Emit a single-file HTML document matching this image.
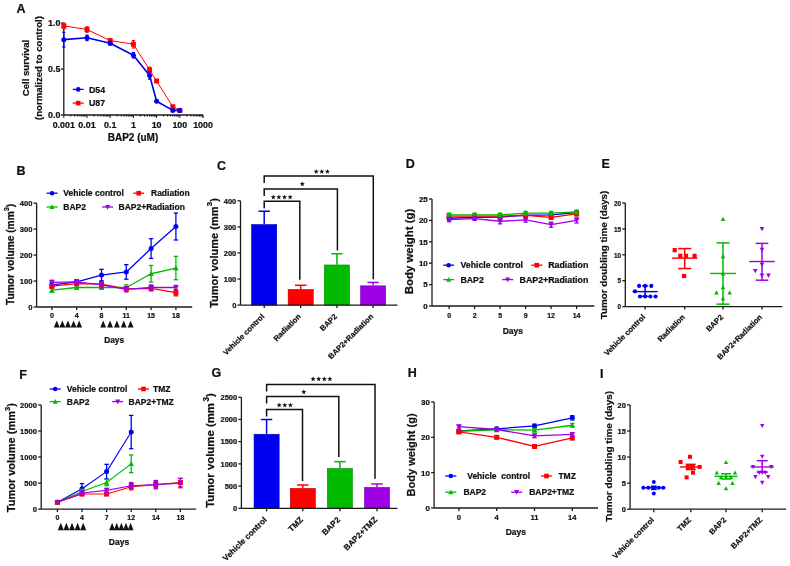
<!DOCTYPE html>
<html><head><meta charset="utf-8"><style>
html,body{margin:0;padding:0;background:#fff;}
body{width:790px;height:566px;overflow:hidden;font-family:"Liberation Sans", sans-serif;}
svg{display:block;}
#w{will-change:transform;width:790px;height:566px;}
.t{font-family:"Liberation Sans", sans-serif;font-weight:bold;stroke:#111;stroke-width:0.22px;}
</style></head><body><div id="w">
<svg width="790" height="566" viewBox="0 0 790 566">
<rect width="790" height="566" fill="#fff"/>
<text x="16.50" y="13.30" font-size="12.5" text-anchor="start" fill="#111" class="t">A</text>
<line x1="63.80" y1="23.10" x2="63.80" y2="115.00" stroke="#1a1a1a" stroke-width="1.3" />
<line x1="61.00" y1="23.10" x2="63.80" y2="23.10" stroke="#1a1a1a" stroke-width="1.3" />
<text x="60.40" y="26.30" font-size="8.9" text-anchor="end" fill="#111" class="t">1.0</text>
<line x1="61.00" y1="69.05" x2="63.80" y2="69.05" stroke="#1a1a1a" stroke-width="1.3" />
<text x="60.40" y="72.25" font-size="8.9" text-anchor="end" fill="#111" class="t">0.5</text>
<line x1="61.00" y1="115.00" x2="63.80" y2="115.00" stroke="#1a1a1a" stroke-width="1.3" />
<text x="60.40" y="118.20" font-size="8.9" text-anchor="end" fill="#111" class="t">0.0</text>
<line x1="63.80" y1="115.00" x2="203.00" y2="115.00" stroke="#1a1a1a" stroke-width="1.3" />
<line x1="63.80" y1="115.00" x2="63.80" y2="118.00" stroke="#1a1a1a" stroke-width="1.0" />
<line x1="70.78" y1="115.00" x2="70.78" y2="116.60" stroke="#1a1a1a" stroke-width="1.0" />
<line x1="74.87" y1="115.00" x2="74.87" y2="116.60" stroke="#1a1a1a" stroke-width="1.0" />
<line x1="77.77" y1="115.00" x2="77.77" y2="116.60" stroke="#1a1a1a" stroke-width="1.0" />
<line x1="80.02" y1="115.00" x2="80.02" y2="116.60" stroke="#1a1a1a" stroke-width="1.0" />
<line x1="81.85" y1="115.00" x2="81.85" y2="116.60" stroke="#1a1a1a" stroke-width="1.0" />
<line x1="83.41" y1="115.00" x2="83.41" y2="116.60" stroke="#1a1a1a" stroke-width="1.0" />
<line x1="84.75" y1="115.00" x2="84.75" y2="116.60" stroke="#1a1a1a" stroke-width="1.0" />
<line x1="85.94" y1="115.00" x2="85.94" y2="116.60" stroke="#1a1a1a" stroke-width="1.0" />
<line x1="87.00" y1="115.00" x2="87.00" y2="118.00" stroke="#1a1a1a" stroke-width="1.0" />
<line x1="93.98" y1="115.00" x2="93.98" y2="116.60" stroke="#1a1a1a" stroke-width="1.0" />
<line x1="98.07" y1="115.00" x2="98.07" y2="116.60" stroke="#1a1a1a" stroke-width="1.0" />
<line x1="100.97" y1="115.00" x2="100.97" y2="116.60" stroke="#1a1a1a" stroke-width="1.0" />
<line x1="103.22" y1="115.00" x2="103.22" y2="116.60" stroke="#1a1a1a" stroke-width="1.0" />
<line x1="105.05" y1="115.00" x2="105.05" y2="116.60" stroke="#1a1a1a" stroke-width="1.0" />
<line x1="106.61" y1="115.00" x2="106.61" y2="116.60" stroke="#1a1a1a" stroke-width="1.0" />
<line x1="107.95" y1="115.00" x2="107.95" y2="116.60" stroke="#1a1a1a" stroke-width="1.0" />
<line x1="109.14" y1="115.00" x2="109.14" y2="116.60" stroke="#1a1a1a" stroke-width="1.0" />
<line x1="110.20" y1="115.00" x2="110.20" y2="118.00" stroke="#1a1a1a" stroke-width="1.0" />
<line x1="117.18" y1="115.00" x2="117.18" y2="116.60" stroke="#1a1a1a" stroke-width="1.0" />
<line x1="121.27" y1="115.00" x2="121.27" y2="116.60" stroke="#1a1a1a" stroke-width="1.0" />
<line x1="124.17" y1="115.00" x2="124.17" y2="116.60" stroke="#1a1a1a" stroke-width="1.0" />
<line x1="126.42" y1="115.00" x2="126.42" y2="116.60" stroke="#1a1a1a" stroke-width="1.0" />
<line x1="128.25" y1="115.00" x2="128.25" y2="116.60" stroke="#1a1a1a" stroke-width="1.0" />
<line x1="129.81" y1="115.00" x2="129.81" y2="116.60" stroke="#1a1a1a" stroke-width="1.0" />
<line x1="131.15" y1="115.00" x2="131.15" y2="116.60" stroke="#1a1a1a" stroke-width="1.0" />
<line x1="132.34" y1="115.00" x2="132.34" y2="116.60" stroke="#1a1a1a" stroke-width="1.0" />
<line x1="133.40" y1="115.00" x2="133.40" y2="118.00" stroke="#1a1a1a" stroke-width="1.0" />
<line x1="140.38" y1="115.00" x2="140.38" y2="116.60" stroke="#1a1a1a" stroke-width="1.0" />
<line x1="144.47" y1="115.00" x2="144.47" y2="116.60" stroke="#1a1a1a" stroke-width="1.0" />
<line x1="147.37" y1="115.00" x2="147.37" y2="116.60" stroke="#1a1a1a" stroke-width="1.0" />
<line x1="149.62" y1="115.00" x2="149.62" y2="116.60" stroke="#1a1a1a" stroke-width="1.0" />
<line x1="151.45" y1="115.00" x2="151.45" y2="116.60" stroke="#1a1a1a" stroke-width="1.0" />
<line x1="153.01" y1="115.00" x2="153.01" y2="116.60" stroke="#1a1a1a" stroke-width="1.0" />
<line x1="154.35" y1="115.00" x2="154.35" y2="116.60" stroke="#1a1a1a" stroke-width="1.0" />
<line x1="155.54" y1="115.00" x2="155.54" y2="116.60" stroke="#1a1a1a" stroke-width="1.0" />
<line x1="156.60" y1="115.00" x2="156.60" y2="118.00" stroke="#1a1a1a" stroke-width="1.0" />
<line x1="163.58" y1="115.00" x2="163.58" y2="116.60" stroke="#1a1a1a" stroke-width="1.0" />
<line x1="167.67" y1="115.00" x2="167.67" y2="116.60" stroke="#1a1a1a" stroke-width="1.0" />
<line x1="170.57" y1="115.00" x2="170.57" y2="116.60" stroke="#1a1a1a" stroke-width="1.0" />
<line x1="172.82" y1="115.00" x2="172.82" y2="116.60" stroke="#1a1a1a" stroke-width="1.0" />
<line x1="174.65" y1="115.00" x2="174.65" y2="116.60" stroke="#1a1a1a" stroke-width="1.0" />
<line x1="176.21" y1="115.00" x2="176.21" y2="116.60" stroke="#1a1a1a" stroke-width="1.0" />
<line x1="177.55" y1="115.00" x2="177.55" y2="116.60" stroke="#1a1a1a" stroke-width="1.0" />
<line x1="178.74" y1="115.00" x2="178.74" y2="116.60" stroke="#1a1a1a" stroke-width="1.0" />
<line x1="179.80" y1="115.00" x2="179.80" y2="118.00" stroke="#1a1a1a" stroke-width="1.0" />
<line x1="186.78" y1="115.00" x2="186.78" y2="116.60" stroke="#1a1a1a" stroke-width="1.0" />
<line x1="190.87" y1="115.00" x2="190.87" y2="116.60" stroke="#1a1a1a" stroke-width="1.0" />
<line x1="193.77" y1="115.00" x2="193.77" y2="116.60" stroke="#1a1a1a" stroke-width="1.0" />
<line x1="196.02" y1="115.00" x2="196.02" y2="116.60" stroke="#1a1a1a" stroke-width="1.0" />
<line x1="197.85" y1="115.00" x2="197.85" y2="116.60" stroke="#1a1a1a" stroke-width="1.0" />
<line x1="199.41" y1="115.00" x2="199.41" y2="116.60" stroke="#1a1a1a" stroke-width="1.0" />
<line x1="200.75" y1="115.00" x2="200.75" y2="116.60" stroke="#1a1a1a" stroke-width="1.0" />
<line x1="201.94" y1="115.00" x2="201.94" y2="116.60" stroke="#1a1a1a" stroke-width="1.0" />
<line x1="203.00" y1="115.00" x2="203.00" y2="118.00" stroke="#1a1a1a" stroke-width="1.3" />
<text x="63.80" y="127.60" font-size="8.9" text-anchor="middle" fill="#111" class="t">0.001</text>
<text x="87.00" y="127.60" font-size="8.9" text-anchor="middle" fill="#111" class="t">0.01</text>
<text x="110.20" y="127.60" font-size="8.9" text-anchor="middle" fill="#111" class="t">0.1</text>
<text x="133.40" y="127.60" font-size="8.9" text-anchor="middle" fill="#111" class="t">1</text>
<text x="156.60" y="127.60" font-size="8.9" text-anchor="middle" fill="#111" class="t">10</text>
<text x="179.80" y="127.60" font-size="8.9" text-anchor="middle" fill="#111" class="t">100</text>
<text x="203.00" y="127.60" font-size="8.9" text-anchor="middle" fill="#111" class="t">1000</text>
<text x="133.00" y="140.50" font-size="10" text-anchor="middle" fill="#111" class="t">BAP2 (uM)</text>
<text x="0" y="0" font-size="9.6" text-anchor="middle" fill="#111" class="t" transform="translate(28.50 68.00) rotate(-90)">Cell survival</text>
<text x="0" y="0" font-size="9.6" text-anchor="middle" fill="#111" class="t" transform="translate(42.00 68.00) rotate(-90)">(normalized to control)</text>
<polyline points="63.80,25.86 87.00,29.53 110.20,40.56 133.40,44.24 149.62,69.97 156.60,81.00 172.82,106.73 179.80,110.41" fill="none" stroke="#ff0000" stroke-width="1.0" stroke-linejoin="round"/>
<line x1="63.80" y1="23.10" x2="63.80" y2="28.61" stroke="#ff0000" stroke-width="1.2" />
<line x1="62.20" y1="23.10" x2="65.40" y2="23.10" stroke="#ff0000" stroke-width="1.2" />
<line x1="62.20" y1="28.61" x2="65.40" y2="28.61" stroke="#ff0000" stroke-width="1.2" />
<rect x="61.30" y="23.36" width="5.00" height="5.00" fill="#ff0000"/>
<line x1="87.00" y1="26.78" x2="87.00" y2="32.29" stroke="#ff0000" stroke-width="1.2" />
<line x1="85.40" y1="26.78" x2="88.60" y2="26.78" stroke="#ff0000" stroke-width="1.2" />
<line x1="85.40" y1="32.29" x2="88.60" y2="32.29" stroke="#ff0000" stroke-width="1.2" />
<rect x="84.50" y="27.03" width="5.00" height="5.00" fill="#ff0000"/>
<line x1="110.20" y1="38.72" x2="110.20" y2="42.40" stroke="#ff0000" stroke-width="1.2" />
<line x1="108.60" y1="38.72" x2="111.80" y2="38.72" stroke="#ff0000" stroke-width="1.2" />
<line x1="108.60" y1="42.40" x2="111.80" y2="42.40" stroke="#ff0000" stroke-width="1.2" />
<rect x="107.70" y="38.06" width="5.00" height="5.00" fill="#ff0000"/>
<line x1="133.40" y1="40.56" x2="133.40" y2="47.91" stroke="#ff0000" stroke-width="1.2" />
<line x1="131.80" y1="40.56" x2="135.00" y2="40.56" stroke="#ff0000" stroke-width="1.2" />
<line x1="131.80" y1="47.91" x2="135.00" y2="47.91" stroke="#ff0000" stroke-width="1.2" />
<rect x="130.90" y="41.74" width="5.00" height="5.00" fill="#ff0000"/>
<line x1="149.62" y1="67.21" x2="149.62" y2="72.73" stroke="#ff0000" stroke-width="1.2" />
<line x1="148.02" y1="67.21" x2="151.22" y2="67.21" stroke="#ff0000" stroke-width="1.2" />
<line x1="148.02" y1="72.73" x2="151.22" y2="72.73" stroke="#ff0000" stroke-width="1.2" />
<rect x="147.12" y="67.47" width="5.00" height="5.00" fill="#ff0000"/>
<line x1="156.60" y1="80.08" x2="156.60" y2="81.92" stroke="#ff0000" stroke-width="1.2" />
<line x1="155.00" y1="80.08" x2="158.20" y2="80.08" stroke="#ff0000" stroke-width="1.2" />
<line x1="155.00" y1="81.92" x2="158.20" y2="81.92" stroke="#ff0000" stroke-width="1.2" />
<rect x="154.10" y="78.50" width="5.00" height="5.00" fill="#ff0000"/>
<line x1="172.82" y1="105.81" x2="172.82" y2="107.65" stroke="#ff0000" stroke-width="1.2" />
<line x1="171.22" y1="105.81" x2="174.42" y2="105.81" stroke="#ff0000" stroke-width="1.2" />
<line x1="171.22" y1="107.65" x2="174.42" y2="107.65" stroke="#ff0000" stroke-width="1.2" />
<rect x="170.32" y="104.23" width="5.00" height="5.00" fill="#ff0000"/>
<line x1="179.80" y1="109.49" x2="179.80" y2="111.32" stroke="#ff0000" stroke-width="1.2" />
<line x1="178.20" y1="109.49" x2="181.40" y2="109.49" stroke="#ff0000" stroke-width="1.2" />
<line x1="178.20" y1="111.32" x2="181.40" y2="111.32" stroke="#ff0000" stroke-width="1.2" />
<rect x="177.30" y="107.91" width="5.00" height="5.00" fill="#ff0000"/>
<polyline points="63.80,39.64 87.00,37.80 110.20,43.32 133.40,55.26 149.62,75.48 156.60,101.22 172.82,110.41 179.80,110.41" fill="none" stroke="#0000f0" stroke-width="1.6" stroke-linejoin="round"/>
<line x1="63.80" y1="32.29" x2="63.80" y2="46.99" stroke="#0000f0" stroke-width="1.2" />
<line x1="62.20" y1="32.29" x2="65.40" y2="32.29" stroke="#0000f0" stroke-width="1.2" />
<line x1="62.20" y1="46.99" x2="65.40" y2="46.99" stroke="#0000f0" stroke-width="1.2" />
<circle cx="63.80" cy="39.64" r="2.5" fill="#0000f0"/>
<line x1="87.00" y1="35.05" x2="87.00" y2="40.56" stroke="#0000f0" stroke-width="1.2" />
<line x1="85.40" y1="35.05" x2="88.60" y2="35.05" stroke="#0000f0" stroke-width="1.2" />
<line x1="85.40" y1="40.56" x2="88.60" y2="40.56" stroke="#0000f0" stroke-width="1.2" />
<circle cx="87.00" cy="37.80" r="2.5" fill="#0000f0"/>
<line x1="110.20" y1="41.48" x2="110.20" y2="45.16" stroke="#0000f0" stroke-width="1.2" />
<line x1="108.60" y1="41.48" x2="111.80" y2="41.48" stroke="#0000f0" stroke-width="1.2" />
<line x1="108.60" y1="45.16" x2="111.80" y2="45.16" stroke="#0000f0" stroke-width="1.2" />
<circle cx="110.20" cy="43.32" r="2.5" fill="#0000f0"/>
<line x1="133.40" y1="52.51" x2="133.40" y2="58.02" stroke="#0000f0" stroke-width="1.2" />
<line x1="131.80" y1="52.51" x2="135.00" y2="52.51" stroke="#0000f0" stroke-width="1.2" />
<line x1="131.80" y1="58.02" x2="135.00" y2="58.02" stroke="#0000f0" stroke-width="1.2" />
<circle cx="133.40" cy="55.26" r="2.5" fill="#0000f0"/>
<line x1="149.62" y1="71.81" x2="149.62" y2="79.16" stroke="#0000f0" stroke-width="1.2" />
<line x1="148.02" y1="71.81" x2="151.22" y2="71.81" stroke="#0000f0" stroke-width="1.2" />
<line x1="148.02" y1="79.16" x2="151.22" y2="79.16" stroke="#0000f0" stroke-width="1.2" />
<circle cx="149.62" cy="75.48" r="2.5" fill="#0000f0"/>
<line x1="156.60" y1="100.30" x2="156.60" y2="102.13" stroke="#0000f0" stroke-width="1.2" />
<line x1="155.00" y1="100.30" x2="158.20" y2="100.30" stroke="#0000f0" stroke-width="1.2" />
<line x1="155.00" y1="102.13" x2="158.20" y2="102.13" stroke="#0000f0" stroke-width="1.2" />
<circle cx="156.60" cy="101.22" r="2.5" fill="#0000f0"/>
<line x1="172.82" y1="109.49" x2="172.82" y2="111.32" stroke="#0000f0" stroke-width="1.2" />
<line x1="171.22" y1="109.49" x2="174.42" y2="109.49" stroke="#0000f0" stroke-width="1.2" />
<line x1="171.22" y1="111.32" x2="174.42" y2="111.32" stroke="#0000f0" stroke-width="1.2" />
<circle cx="172.82" cy="110.41" r="2.5" fill="#0000f0"/>
<line x1="179.80" y1="109.49" x2="179.80" y2="111.32" stroke="#0000f0" stroke-width="1.2" />
<line x1="178.20" y1="109.49" x2="181.40" y2="109.49" stroke="#0000f0" stroke-width="1.2" />
<line x1="178.20" y1="111.32" x2="181.40" y2="111.32" stroke="#0000f0" stroke-width="1.2" />
<circle cx="179.80" cy="110.41" r="2.5" fill="#0000f0"/>
<line x1="72.70" y1="89.40" x2="83.70" y2="89.40" stroke="#0000f0" stroke-width="1.3" />
<circle cx="78.20" cy="89.40" r="2.3" fill="#0000f0"/>
<text x="88.90" y="92.57" font-size="8.8" text-anchor="start" fill="#111" class="t">D54</text>
<line x1="72.70" y1="103.10" x2="83.70" y2="103.10" stroke="#ff0000" stroke-width="1.3" />
<rect x="75.90" y="100.80" width="4.60" height="4.60" fill="#ff0000"/>
<text x="88.90" y="106.27" font-size="8.8" text-anchor="start" fill="#111" class="t">U87</text>
<text x="16.50" y="174.50" font-size="12.5" text-anchor="start" fill="#111" class="t">B</text>
<line x1="36.60" y1="203.10" x2="36.60" y2="307.00" stroke="#1a1a1a" stroke-width="1.3" />
<line x1="33.60" y1="203.10" x2="36.60" y2="203.10" stroke="#1a1a1a" stroke-width="1.3" />
<text x="32.40" y="205.84" font-size="7.6" text-anchor="end" fill="#111" class="t">400</text>
<line x1="33.60" y1="229.07" x2="36.60" y2="229.07" stroke="#1a1a1a" stroke-width="1.3" />
<text x="32.40" y="231.81" font-size="7.6" text-anchor="end" fill="#111" class="t">300</text>
<line x1="33.60" y1="255.05" x2="36.60" y2="255.05" stroke="#1a1a1a" stroke-width="1.3" />
<text x="32.40" y="257.79" font-size="7.6" text-anchor="end" fill="#111" class="t">200</text>
<line x1="33.60" y1="281.02" x2="36.60" y2="281.02" stroke="#1a1a1a" stroke-width="1.3" />
<text x="32.40" y="283.76" font-size="7.6" text-anchor="end" fill="#111" class="t">100</text>
<line x1="33.60" y1="307.00" x2="36.60" y2="307.00" stroke="#1a1a1a" stroke-width="1.3" />
<text x="32.40" y="309.74" font-size="7.6" text-anchor="end" fill="#111" class="t">0</text>
<line x1="36.60" y1="307.00" x2="192.20" y2="307.00" stroke="#1a1a1a" stroke-width="1.3" />
<line x1="51.90" y1="307.00" x2="51.90" y2="310.00" stroke="#1a1a1a" stroke-width="1.3" />
<text x="0" y="0" font-size="8" text-anchor="middle" fill="#111" class="t" transform="translate(51.90 317.80) scale(0.88 1)">0</text>
<line x1="76.70" y1="307.00" x2="76.70" y2="310.00" stroke="#1a1a1a" stroke-width="1.3" />
<text x="0" y="0" font-size="8" text-anchor="middle" fill="#111" class="t" transform="translate(76.70 317.80) scale(0.88 1)">4</text>
<line x1="101.50" y1="307.00" x2="101.50" y2="310.00" stroke="#1a1a1a" stroke-width="1.3" />
<text x="0" y="0" font-size="8" text-anchor="middle" fill="#111" class="t" transform="translate(101.50 317.80) scale(0.88 1)">8</text>
<line x1="126.30" y1="307.00" x2="126.30" y2="310.00" stroke="#1a1a1a" stroke-width="1.3" />
<text x="0" y="0" font-size="8" text-anchor="middle" fill="#111" class="t" transform="translate(126.30 317.80) scale(0.88 1)">11</text>
<line x1="151.10" y1="307.00" x2="151.10" y2="310.00" stroke="#1a1a1a" stroke-width="1.3" />
<text x="0" y="0" font-size="8" text-anchor="middle" fill="#111" class="t" transform="translate(151.10 317.80) scale(0.88 1)">15</text>
<line x1="175.90" y1="307.00" x2="175.90" y2="310.00" stroke="#1a1a1a" stroke-width="1.3" />
<text x="0" y="0" font-size="8" text-anchor="middle" fill="#111" class="t" transform="translate(175.90 317.80) scale(0.88 1)">18</text>
<polygon points="53.80,327.40 59.70,327.40 56.75,320.60" fill="#111"/>
<polygon points="59.40,327.40 65.30,327.40 62.35,320.60" fill="#111"/>
<polygon points="65.00,327.40 70.90,327.40 67.95,320.60" fill="#111"/>
<polygon points="70.60,327.40 76.50,327.40 73.55,320.60" fill="#111"/>
<polygon points="76.20,327.40 82.10,327.40 79.15,320.60" fill="#111"/>
<polygon points="100.30,327.40 106.10,327.40 103.20,320.60" fill="#111"/>
<polygon points="107.15,327.40 112.95,327.40 110.05,320.60" fill="#111"/>
<polygon points="114.00,327.40 119.80,327.40 116.90,320.60" fill="#111"/>
<polygon points="120.85,327.40 126.65,327.40 123.75,320.60" fill="#111"/>
<polygon points="127.70,327.40 133.50,327.40 130.60,320.60" fill="#111"/>
<text x="114.20" y="342.60" font-size="8.3" text-anchor="middle" fill="#111" class="t">Days</text>
<text x="0" y="0" font-size="10.2" text-anchor="middle" fill="#111" class="t" transform="translate(14.20 254.40) rotate(-90)">Tumor volume (mm<tspan font-size="7.4" dy="-4.8">3</tspan><tspan dy="4.8">)</tspan></text>
<polyline points="51.90,284.92 76.70,281.80 101.50,275.05 126.30,271.93 151.10,248.56 175.90,226.48" fill="none" stroke="#0000f0" stroke-width="1.3" stroke-linejoin="round"/>
<line x1="51.90" y1="282.32" x2="51.90" y2="287.52" stroke="#0000f0" stroke-width="1.3" />
<line x1="49.70" y1="282.32" x2="54.10" y2="282.32" stroke="#0000f0" stroke-width="1.3" />
<line x1="49.70" y1="287.52" x2="54.10" y2="287.52" stroke="#0000f0" stroke-width="1.3" />
<circle cx="51.90" cy="284.92" r="2.5" fill="#0000f0"/>
<line x1="76.70" y1="279.73" x2="76.70" y2="283.88" stroke="#0000f0" stroke-width="1.3" />
<line x1="74.50" y1="279.73" x2="78.90" y2="279.73" stroke="#0000f0" stroke-width="1.3" />
<line x1="74.50" y1="283.88" x2="78.90" y2="283.88" stroke="#0000f0" stroke-width="1.3" />
<circle cx="76.70" cy="281.80" r="2.5" fill="#0000f0"/>
<line x1="101.50" y1="269.34" x2="101.50" y2="280.77" stroke="#0000f0" stroke-width="1.3" />
<line x1="99.30" y1="269.34" x2="103.70" y2="269.34" stroke="#0000f0" stroke-width="1.3" />
<line x1="99.30" y1="280.77" x2="103.70" y2="280.77" stroke="#0000f0" stroke-width="1.3" />
<circle cx="101.50" cy="275.05" r="2.5" fill="#0000f0"/>
<line x1="126.30" y1="264.66" x2="126.30" y2="279.21" stroke="#0000f0" stroke-width="1.3" />
<line x1="124.10" y1="264.66" x2="128.50" y2="264.66" stroke="#0000f0" stroke-width="1.3" />
<line x1="124.10" y1="279.21" x2="128.50" y2="279.21" stroke="#0000f0" stroke-width="1.3" />
<circle cx="126.30" cy="271.93" r="2.5" fill="#0000f0"/>
<line x1="151.10" y1="238.69" x2="151.10" y2="258.43" stroke="#0000f0" stroke-width="1.3" />
<line x1="148.90" y1="238.69" x2="153.30" y2="238.69" stroke="#0000f0" stroke-width="1.3" />
<line x1="148.90" y1="258.43" x2="153.30" y2="258.43" stroke="#0000f0" stroke-width="1.3" />
<circle cx="151.10" cy="248.56" r="2.5" fill="#0000f0"/>
<line x1="175.90" y1="212.97" x2="175.90" y2="239.98" stroke="#0000f0" stroke-width="1.3" />
<line x1="173.70" y1="212.97" x2="178.10" y2="212.97" stroke="#0000f0" stroke-width="1.3" />
<line x1="173.70" y1="239.98" x2="178.10" y2="239.98" stroke="#0000f0" stroke-width="1.3" />
<circle cx="175.90" cy="226.48" r="2.5" fill="#0000f0"/>
<polyline points="51.90,290.12 76.70,287.52 101.50,287.52 126.30,287.52 151.10,273.75 175.90,268.04" fill="none" stroke="#00bb00" stroke-width="1.3" stroke-linejoin="round"/>
<line x1="51.90" y1="288.04" x2="51.90" y2="292.19" stroke="#00bb00" stroke-width="1.3" />
<line x1="49.70" y1="288.04" x2="54.10" y2="288.04" stroke="#00bb00" stroke-width="1.3" />
<line x1="49.70" y1="292.19" x2="54.10" y2="292.19" stroke="#00bb00" stroke-width="1.3" />
<polygon points="51.90,287.24 54.65,292.42 49.15,292.42" fill="#00bb00"/>
<line x1="76.70" y1="285.96" x2="76.70" y2="289.08" stroke="#00bb00" stroke-width="1.3" />
<line x1="74.50" y1="285.96" x2="78.90" y2="285.96" stroke="#00bb00" stroke-width="1.3" />
<line x1="74.50" y1="289.08" x2="78.90" y2="289.08" stroke="#00bb00" stroke-width="1.3" />
<polygon points="76.70,284.64 79.45,289.82 73.95,289.82" fill="#00bb00"/>
<line x1="101.50" y1="285.70" x2="101.50" y2="289.34" stroke="#00bb00" stroke-width="1.3" />
<line x1="99.30" y1="285.70" x2="103.70" y2="285.70" stroke="#00bb00" stroke-width="1.3" />
<line x1="99.30" y1="289.34" x2="103.70" y2="289.34" stroke="#00bb00" stroke-width="1.3" />
<polygon points="101.50,284.64 104.25,289.82 98.75,289.82" fill="#00bb00"/>
<line x1="126.30" y1="284.92" x2="126.30" y2="290.12" stroke="#00bb00" stroke-width="1.3" />
<line x1="124.10" y1="284.92" x2="128.50" y2="284.92" stroke="#00bb00" stroke-width="1.3" />
<line x1="124.10" y1="290.12" x2="128.50" y2="290.12" stroke="#00bb00" stroke-width="1.3" />
<polygon points="126.30,284.64 129.05,289.82 123.55,289.82" fill="#00bb00"/>
<line x1="151.10" y1="265.44" x2="151.10" y2="282.06" stroke="#00bb00" stroke-width="1.3" />
<line x1="148.90" y1="265.44" x2="153.30" y2="265.44" stroke="#00bb00" stroke-width="1.3" />
<line x1="148.90" y1="282.06" x2="153.30" y2="282.06" stroke="#00bb00" stroke-width="1.3" />
<polygon points="151.10,270.88 153.85,276.05 148.35,276.05" fill="#00bb00"/>
<line x1="175.90" y1="256.35" x2="175.90" y2="279.73" stroke="#00bb00" stroke-width="1.3" />
<line x1="173.70" y1="256.35" x2="178.10" y2="256.35" stroke="#00bb00" stroke-width="1.3" />
<line x1="173.70" y1="279.73" x2="178.10" y2="279.73" stroke="#00bb00" stroke-width="1.3" />
<polygon points="175.90,265.16 178.65,270.34 173.15,270.34" fill="#00bb00"/>
<polyline points="51.90,286.22 76.70,283.62 101.50,284.14 126.30,288.82 151.10,288.30 175.90,292.71" fill="none" stroke="#ff0000" stroke-width="1.3" stroke-linejoin="round"/>
<line x1="51.90" y1="284.66" x2="51.90" y2="287.78" stroke="#ff0000" stroke-width="1.3" />
<line x1="49.70" y1="284.66" x2="54.10" y2="284.66" stroke="#ff0000" stroke-width="1.3" />
<line x1="49.70" y1="287.78" x2="54.10" y2="287.78" stroke="#ff0000" stroke-width="1.3" />
<rect x="49.40" y="283.72" width="5.00" height="5.00" fill="#ff0000"/>
<line x1="76.70" y1="281.80" x2="76.70" y2="285.44" stroke="#ff0000" stroke-width="1.3" />
<line x1="74.50" y1="281.80" x2="78.90" y2="281.80" stroke="#ff0000" stroke-width="1.3" />
<line x1="74.50" y1="285.44" x2="78.90" y2="285.44" stroke="#ff0000" stroke-width="1.3" />
<rect x="74.20" y="281.12" width="5.00" height="5.00" fill="#ff0000"/>
<line x1="101.50" y1="282.06" x2="101.50" y2="286.22" stroke="#ff0000" stroke-width="1.3" />
<line x1="99.30" y1="282.06" x2="103.70" y2="282.06" stroke="#ff0000" stroke-width="1.3" />
<line x1="99.30" y1="286.22" x2="103.70" y2="286.22" stroke="#ff0000" stroke-width="1.3" />
<rect x="99.00" y="281.64" width="5.00" height="5.00" fill="#ff0000"/>
<line x1="126.30" y1="286.74" x2="126.30" y2="290.90" stroke="#ff0000" stroke-width="1.3" />
<line x1="124.10" y1="286.74" x2="128.50" y2="286.74" stroke="#ff0000" stroke-width="1.3" />
<line x1="124.10" y1="290.90" x2="128.50" y2="290.90" stroke="#ff0000" stroke-width="1.3" />
<rect x="123.80" y="286.32" width="5.00" height="5.00" fill="#ff0000"/>
<line x1="151.10" y1="285.70" x2="151.10" y2="290.90" stroke="#ff0000" stroke-width="1.3" />
<line x1="148.90" y1="285.70" x2="153.30" y2="285.70" stroke="#ff0000" stroke-width="1.3" />
<line x1="148.90" y1="290.90" x2="153.30" y2="290.90" stroke="#ff0000" stroke-width="1.3" />
<rect x="148.60" y="285.80" width="5.00" height="5.00" fill="#ff0000"/>
<line x1="175.90" y1="289.60" x2="175.90" y2="295.83" stroke="#ff0000" stroke-width="1.3" />
<line x1="173.70" y1="289.60" x2="178.10" y2="289.60" stroke="#ff0000" stroke-width="1.3" />
<line x1="173.70" y1="295.83" x2="178.10" y2="295.83" stroke="#ff0000" stroke-width="1.3" />
<rect x="173.40" y="290.21" width="5.00" height="5.00" fill="#ff0000"/>
<polyline points="51.90,282.32 76.70,281.80 101.50,284.92 126.30,289.34 151.10,287.52 175.90,287.52" fill="none" stroke="#a000e6" stroke-width="1.3" stroke-linejoin="round"/>
<line x1="51.90" y1="280.25" x2="51.90" y2="284.40" stroke="#a000e6" stroke-width="1.3" />
<line x1="49.70" y1="280.25" x2="54.10" y2="280.25" stroke="#a000e6" stroke-width="1.3" />
<line x1="49.70" y1="284.40" x2="54.10" y2="284.40" stroke="#a000e6" stroke-width="1.3" />
<polygon points="51.90,285.20 54.65,280.02 49.15,280.02" fill="#a000e6"/>
<line x1="76.70" y1="279.73" x2="76.70" y2="283.88" stroke="#a000e6" stroke-width="1.3" />
<line x1="74.50" y1="279.73" x2="78.90" y2="279.73" stroke="#a000e6" stroke-width="1.3" />
<line x1="74.50" y1="283.88" x2="78.90" y2="283.88" stroke="#a000e6" stroke-width="1.3" />
<polygon points="76.70,284.68 79.45,279.50 73.95,279.50" fill="#a000e6"/>
<line x1="101.50" y1="281.80" x2="101.50" y2="288.04" stroke="#a000e6" stroke-width="1.3" />
<line x1="99.30" y1="281.80" x2="103.70" y2="281.80" stroke="#a000e6" stroke-width="1.3" />
<line x1="99.30" y1="288.04" x2="103.70" y2="288.04" stroke="#a000e6" stroke-width="1.3" />
<polygon points="101.50,287.80 104.25,282.62 98.75,282.62" fill="#a000e6"/>
<line x1="126.30" y1="286.74" x2="126.30" y2="291.93" stroke="#a000e6" stroke-width="1.3" />
<line x1="124.10" y1="286.74" x2="128.50" y2="286.74" stroke="#a000e6" stroke-width="1.3" />
<line x1="124.10" y1="291.93" x2="128.50" y2="291.93" stroke="#a000e6" stroke-width="1.3" />
<polygon points="126.30,292.21 129.05,287.04 123.55,287.04" fill="#a000e6"/>
<line x1="151.10" y1="284.92" x2="151.10" y2="290.12" stroke="#a000e6" stroke-width="1.3" />
<line x1="148.90" y1="284.92" x2="153.30" y2="284.92" stroke="#a000e6" stroke-width="1.3" />
<line x1="148.90" y1="290.12" x2="153.30" y2="290.12" stroke="#a000e6" stroke-width="1.3" />
<polygon points="151.10,290.39 153.85,285.22 148.35,285.22" fill="#a000e6"/>
<line x1="175.90" y1="285.44" x2="175.90" y2="289.60" stroke="#a000e6" stroke-width="1.3" />
<line x1="173.70" y1="285.44" x2="178.10" y2="285.44" stroke="#a000e6" stroke-width="1.3" />
<line x1="173.70" y1="289.60" x2="178.10" y2="289.60" stroke="#a000e6" stroke-width="1.3" />
<polygon points="175.90,290.39 178.65,285.22 173.15,285.22" fill="#a000e6"/>
<line x1="46.60" y1="193.20" x2="57.60" y2="193.20" stroke="#0000f0" stroke-width="1.3" />
<circle cx="52.10" cy="193.20" r="2.3" fill="#0000f0"/>
<text x="63.30" y="196.26" font-size="8.5" text-anchor="start" fill="#111" class="t">Vehicle control</text>
<line x1="133.20" y1="193.20" x2="144.20" y2="193.20" stroke="#ff0000" stroke-width="1.3" />
<rect x="136.40" y="190.90" width="4.60" height="4.60" fill="#ff0000"/>
<text x="151.00" y="196.26" font-size="8.5" text-anchor="start" fill="#111" class="t">Radiation</text>
<line x1="46.60" y1="207.00" x2="57.60" y2="207.00" stroke="#00bb00" stroke-width="1.3" />
<polygon points="52.10,204.35 54.63,209.12 49.57,209.12" fill="#00bb00"/>
<text x="63.30" y="210.06" font-size="8.5" text-anchor="start" fill="#111" class="t">BAP2</text>
<line x1="102.10" y1="207.00" x2="113.10" y2="207.00" stroke="#a000e6" stroke-width="1.3" />
<polygon points="107.60,209.65 110.13,204.88 105.07,204.88" fill="#a000e6"/>
<text x="118.50" y="210.06" font-size="8.5" text-anchor="start" fill="#111" class="t">BAP2+Radiation</text>
<text x="217.00" y="169.50" font-size="12.5" text-anchor="start" fill="#111" class="t">C</text>
<rect x="251.65" y="224.57" width="25.1" height="80.53" fill="#0000f0" stroke="#0000b0" stroke-width="0.6"/>
<line x1="264.20" y1="224.27" x2="264.20" y2="211.23" stroke="#0000f0" stroke-width="1.5" />
<line x1="258.50" y1="211.23" x2="269.90" y2="211.23" stroke="#0000f0" stroke-width="1.5" />
<rect x="288.15" y="289.49" width="25.1" height="15.61" fill="#ff0000" stroke="#c00000" stroke-width="0.6"/>
<line x1="300.70" y1="289.19" x2="300.70" y2="285.28" stroke="#ff0000" stroke-width="1.5" />
<line x1="295.00" y1="285.28" x2="306.40" y2="285.28" stroke="#ff0000" stroke-width="1.5" />
<rect x="324.35" y="264.98" width="25.1" height="40.12" fill="#00bb00" stroke="#008800" stroke-width="0.6"/>
<line x1="336.90" y1="264.68" x2="336.90" y2="253.73" stroke="#00bb00" stroke-width="1.5" />
<line x1="331.20" y1="253.73" x2="342.60" y2="253.73" stroke="#00bb00" stroke-width="1.5" />
<rect x="360.55" y="285.84" width="25.1" height="19.26" fill="#a000e6" stroke="#7000a8" stroke-width="0.6"/>
<line x1="373.10" y1="285.54" x2="373.10" y2="282.41" stroke="#a000e6" stroke-width="1.5" />
<line x1="367.40" y1="282.41" x2="378.80" y2="282.41" stroke="#a000e6" stroke-width="1.5" />
<line x1="240.50" y1="200.80" x2="240.50" y2="305.10" stroke="#1a1a1a" stroke-width="1.3" />
<line x1="237.50" y1="200.80" x2="240.50" y2="200.80" stroke="#1a1a1a" stroke-width="1.3" />
<text x="236.30" y="203.50" font-size="7.5" text-anchor="end" fill="#111" class="t">400</text>
<line x1="237.50" y1="226.88" x2="240.50" y2="226.88" stroke="#1a1a1a" stroke-width="1.3" />
<text x="236.30" y="229.57" font-size="7.5" text-anchor="end" fill="#111" class="t">300</text>
<line x1="237.50" y1="252.95" x2="240.50" y2="252.95" stroke="#1a1a1a" stroke-width="1.3" />
<text x="236.30" y="255.65" font-size="7.5" text-anchor="end" fill="#111" class="t">200</text>
<line x1="237.50" y1="279.03" x2="240.50" y2="279.03" stroke="#1a1a1a" stroke-width="1.3" />
<text x="236.30" y="281.73" font-size="7.5" text-anchor="end" fill="#111" class="t">100</text>
<line x1="237.50" y1="305.10" x2="240.50" y2="305.10" stroke="#1a1a1a" stroke-width="1.3" />
<text x="236.30" y="307.80" font-size="7.5" text-anchor="end" fill="#111" class="t">0</text>
<line x1="240.50" y1="305.10" x2="397.50" y2="305.10" stroke="#1a1a1a" stroke-width="1.3" />
<line x1="264.20" y1="305.10" x2="264.20" y2="308.10" stroke="#1a1a1a" stroke-width="1.3" />
<line x1="300.70" y1="305.10" x2="300.70" y2="308.10" stroke="#1a1a1a" stroke-width="1.3" />
<line x1="336.90" y1="305.10" x2="336.90" y2="308.10" stroke="#1a1a1a" stroke-width="1.3" />
<line x1="373.10" y1="305.10" x2="373.10" y2="308.10" stroke="#1a1a1a" stroke-width="1.3" />
<text x="0" y="0" font-size="7.7" text-anchor="end" fill="#111" class="t" transform="translate(264.90 317.00) rotate(-45)">Vehicle control</text>
<text x="0" y="0" font-size="7.7" text-anchor="end" fill="#111" class="t" transform="translate(301.40 317.00) rotate(-45)">Radiation</text>
<text x="0" y="0" font-size="7.7" text-anchor="end" fill="#111" class="t" transform="translate(337.60 317.00) rotate(-45)">BAP2</text>
<text x="0" y="0" font-size="7.7" text-anchor="end" fill="#111" class="t" transform="translate(373.80 317.00) rotate(-45)">BAP2+Radiation</text>
<text x="0" y="0" font-size="11" text-anchor="middle" fill="#111" class="t" transform="translate(217.50 253.00) rotate(-90)">Tumor volume (mm<tspan font-size="7.92" dy="-5.50" dx="0.3">3</tspan><tspan dy="5.50">)</tspan></text>
<polyline points="264.20,183.00 264.20,176.00 373.30,176.00 373.30,279.20" fill="none" stroke="#111" stroke-width="1.5"/>
<polygon points="316.20,168.90 316.87,170.68 318.77,170.77 317.28,171.95 317.79,173.78 316.20,172.73 314.61,173.78 315.12,171.95 313.63,170.77 315.53,170.68" fill="#111"/>
<polygon points="321.80,168.90 322.47,170.68 324.37,170.77 322.88,171.95 323.39,173.78 321.80,172.73 320.21,173.78 320.72,171.95 319.23,170.77 321.13,170.68" fill="#111"/>
<polygon points="327.40,168.90 328.07,170.68 329.97,170.77 328.48,171.95 328.99,173.78 327.40,172.73 325.81,173.78 326.32,171.95 324.83,170.77 326.73,170.68" fill="#111"/>
<polyline points="264.20,195.90 264.20,188.90 337.40,188.90 337.40,250.50" fill="none" stroke="#111" stroke-width="1.5"/>
<polygon points="302.30,181.30 302.97,183.08 304.87,183.17 303.38,184.35 303.89,186.18 302.30,185.13 300.71,186.18 301.22,184.35 299.73,183.17 301.63,183.08" fill="#111"/>
<polyline points="264.20,208.20 264.20,201.20 299.80,201.20 299.80,279.80" fill="none" stroke="#111" stroke-width="1.5"/>
<polygon points="273.30,194.50 273.97,196.28 275.87,196.37 274.38,197.55 274.89,199.38 273.30,198.33 271.71,199.38 272.22,197.55 270.73,196.37 272.63,196.28" fill="#111"/>
<polygon points="278.90,194.50 279.57,196.28 281.47,196.37 279.98,197.55 280.49,199.38 278.90,198.33 277.31,199.38 277.82,197.55 276.33,196.37 278.23,196.28" fill="#111"/>
<polygon points="284.50,194.50 285.17,196.28 287.07,196.37 285.58,197.55 286.09,199.38 284.50,198.33 282.91,199.38 283.42,197.55 281.93,196.37 283.83,196.28" fill="#111"/>
<polygon points="290.10,194.50 290.77,196.28 292.67,196.37 291.18,197.55 291.69,199.38 290.10,198.33 288.51,199.38 289.02,197.55 287.53,196.37 289.43,196.28" fill="#111"/>
<text x="211.40" y="376.50" font-size="12.5" text-anchor="start" fill="#111" class="t">G</text>
<rect x="254.05" y="434.25" width="25.1" height="74.05" fill="#0000f0" stroke="#0000b0" stroke-width="0.6"/>
<line x1="266.60" y1="433.95" x2="266.60" y2="419.51" stroke="#0000f0" stroke-width="1.5" />
<line x1="260.90" y1="419.51" x2="272.30" y2="419.51" stroke="#0000f0" stroke-width="1.5" />
<rect x="290.25" y="488.38" width="25.1" height="19.92" fill="#ff0000" stroke="#c00000" stroke-width="0.6"/>
<line x1="302.80" y1="488.08" x2="302.80" y2="484.97" stroke="#ff0000" stroke-width="1.5" />
<line x1="297.10" y1="484.97" x2="308.50" y2="484.97" stroke="#ff0000" stroke-width="1.5" />
<rect x="327.35" y="468.47" width="25.1" height="39.83" fill="#00bb00" stroke="#008800" stroke-width="0.6"/>
<line x1="339.90" y1="468.17" x2="339.90" y2="461.64" stroke="#00bb00" stroke-width="1.5" />
<line x1="334.20" y1="461.64" x2="345.60" y2="461.64" stroke="#00bb00" stroke-width="1.5" />
<rect x="364.45" y="487.40" width="25.1" height="20.90" fill="#a000e6" stroke="#7000a8" stroke-width="0.6"/>
<line x1="377.00" y1="487.10" x2="377.00" y2="483.99" stroke="#a000e6" stroke-width="1.5" />
<line x1="371.30" y1="483.99" x2="382.70" y2="483.99" stroke="#a000e6" stroke-width="1.5" />
<line x1="241.40" y1="397.20" x2="241.40" y2="508.30" stroke="#1a1a1a" stroke-width="1.3" />
<line x1="238.40" y1="397.20" x2="241.40" y2="397.20" stroke="#1a1a1a" stroke-width="1.3" />
<text x="237.20" y="399.90" font-size="7.5" text-anchor="end" fill="#111" class="t">2500</text>
<line x1="238.40" y1="419.42" x2="241.40" y2="419.42" stroke="#1a1a1a" stroke-width="1.3" />
<text x="237.20" y="422.12" font-size="7.5" text-anchor="end" fill="#111" class="t">2000</text>
<line x1="238.40" y1="441.64" x2="241.40" y2="441.64" stroke="#1a1a1a" stroke-width="1.3" />
<text x="237.20" y="444.34" font-size="7.5" text-anchor="end" fill="#111" class="t">1500</text>
<line x1="238.40" y1="463.86" x2="241.40" y2="463.86" stroke="#1a1a1a" stroke-width="1.3" />
<text x="237.20" y="466.56" font-size="7.5" text-anchor="end" fill="#111" class="t">1000</text>
<line x1="238.40" y1="486.08" x2="241.40" y2="486.08" stroke="#1a1a1a" stroke-width="1.3" />
<text x="237.20" y="488.78" font-size="7.5" text-anchor="end" fill="#111" class="t">500</text>
<line x1="238.40" y1="508.30" x2="241.40" y2="508.30" stroke="#1a1a1a" stroke-width="1.3" />
<text x="237.20" y="511.00" font-size="7.5" text-anchor="end" fill="#111" class="t">0</text>
<line x1="241.40" y1="508.30" x2="397.50" y2="508.30" stroke="#1a1a1a" stroke-width="1.3" />
<line x1="266.60" y1="508.30" x2="266.60" y2="511.30" stroke="#1a1a1a" stroke-width="1.3" />
<line x1="302.80" y1="508.30" x2="302.80" y2="511.30" stroke="#1a1a1a" stroke-width="1.3" />
<line x1="339.90" y1="508.30" x2="339.90" y2="511.30" stroke="#1a1a1a" stroke-width="1.3" />
<line x1="377.00" y1="508.30" x2="377.00" y2="511.30" stroke="#1a1a1a" stroke-width="1.3" />
<text x="0" y="0" font-size="8.2" text-anchor="end" fill="#111" class="t" transform="translate(267.30 520.30) rotate(-45)">Vehicle control</text>
<text x="0" y="0" font-size="8.2" text-anchor="end" fill="#111" class="t" transform="translate(303.50 520.30) rotate(-45)">TMZ</text>
<text x="0" y="0" font-size="8.2" text-anchor="end" fill="#111" class="t" transform="translate(340.60 520.30) rotate(-45)">BAP2</text>
<text x="0" y="0" font-size="8.2" text-anchor="end" fill="#111" class="t" transform="translate(377.70 520.30) rotate(-45)">BAP2+TMZ</text>
<text x="0" y="0" font-size="11.4" text-anchor="middle" fill="#111" class="t" transform="translate(214.40 450.50) rotate(-90)">Tumor volume (mm<tspan font-size="8.21" dy="-5.70" dx="1.5">3</tspan><tspan dy="5.70">)</tspan></text>
<polyline points="266.60,391.40 266.60,384.40 375.00,384.40 375.00,478.70" fill="none" stroke="#111" stroke-width="1.5"/>
<polygon points="313.10,376.30 313.77,378.08 315.67,378.17 314.18,379.35 314.69,381.18 313.10,380.13 311.51,381.18 312.02,379.35 310.53,378.17 312.43,378.08" fill="#111"/>
<polygon points="318.70,376.30 319.37,378.08 321.27,378.17 319.78,379.35 320.29,381.18 318.70,380.13 317.11,381.18 317.62,379.35 316.13,378.17 318.03,378.08" fill="#111"/>
<polygon points="324.30,376.30 324.97,378.08 326.87,378.17 325.38,379.35 325.89,381.18 324.30,380.13 322.71,381.18 323.22,379.35 321.73,378.17 323.63,378.08" fill="#111"/>
<polygon points="329.90,376.30 330.57,378.08 332.47,378.17 330.98,379.35 331.49,381.18 329.90,380.13 328.31,381.18 328.82,379.35 327.33,378.17 329.23,378.08" fill="#111"/>
<polyline points="266.60,403.50 266.60,396.50 338.80,396.50 338.80,457.00" fill="none" stroke="#111" stroke-width="1.5"/>
<polygon points="303.80,389.30 304.47,391.08 306.37,391.17 304.88,392.35 305.39,394.18 303.80,393.13 302.21,394.18 302.72,392.35 301.23,391.17 303.13,391.08" fill="#111"/>
<polyline points="266.60,416.60 266.60,409.60 302.50,409.60 302.50,481.00" fill="none" stroke="#111" stroke-width="1.5"/>
<polygon points="279.20,402.50 279.87,404.28 281.77,404.37 280.28,405.55 280.79,407.38 279.20,406.33 277.61,407.38 278.12,405.55 276.63,404.37 278.53,404.28" fill="#111"/>
<polygon points="284.80,402.50 285.47,404.28 287.37,404.37 285.88,405.55 286.39,407.38 284.80,406.33 283.21,407.38 283.72,405.55 282.23,404.37 284.13,404.28" fill="#111"/>
<polygon points="290.40,402.50 291.07,404.28 292.97,404.37 291.48,405.55 291.99,407.38 290.40,406.33 288.81,407.38 289.32,405.55 287.83,404.37 289.73,404.28" fill="#111"/>
<text x="405.70" y="168.10" font-size="12.5" text-anchor="start" fill="#111" class="t">D</text>
<line x1="432.00" y1="199.00" x2="432.00" y2="306.00" stroke="#1a1a1a" stroke-width="1.3" />
<line x1="429.00" y1="199.00" x2="432.00" y2="199.00" stroke="#1a1a1a" stroke-width="1.3" />
<text x="427.80" y="201.88" font-size="8" text-anchor="end" fill="#111" class="t">25</text>
<line x1="429.00" y1="220.40" x2="432.00" y2="220.40" stroke="#1a1a1a" stroke-width="1.3" />
<text x="427.80" y="223.28" font-size="8" text-anchor="end" fill="#111" class="t">20</text>
<line x1="429.00" y1="241.80" x2="432.00" y2="241.80" stroke="#1a1a1a" stroke-width="1.3" />
<text x="427.80" y="244.68" font-size="8" text-anchor="end" fill="#111" class="t">15</text>
<line x1="429.00" y1="263.20" x2="432.00" y2="263.20" stroke="#1a1a1a" stroke-width="1.3" />
<text x="427.80" y="266.08" font-size="8" text-anchor="end" fill="#111" class="t">10</text>
<line x1="429.00" y1="284.60" x2="432.00" y2="284.60" stroke="#1a1a1a" stroke-width="1.3" />
<text x="427.80" y="287.48" font-size="8" text-anchor="end" fill="#111" class="t">5</text>
<line x1="429.00" y1="306.00" x2="432.00" y2="306.00" stroke="#1a1a1a" stroke-width="1.3" />
<text x="427.80" y="308.88" font-size="8" text-anchor="end" fill="#111" class="t">0</text>
<line x1="432.00" y1="306.00" x2="594.30" y2="306.00" stroke="#1a1a1a" stroke-width="1.3" />
<line x1="449.10" y1="306.00" x2="449.10" y2="309.00" stroke="#1a1a1a" stroke-width="1.3" />
<text x="0" y="0" font-size="8" text-anchor="middle" fill="#111" class="t" transform="translate(449.10 318.00) scale(0.88 1)">0</text>
<line x1="474.60" y1="306.00" x2="474.60" y2="309.00" stroke="#1a1a1a" stroke-width="1.3" />
<text x="0" y="0" font-size="8" text-anchor="middle" fill="#111" class="t" transform="translate(474.60 318.00) scale(0.88 1)">2</text>
<line x1="500.10" y1="306.00" x2="500.10" y2="309.00" stroke="#1a1a1a" stroke-width="1.3" />
<text x="0" y="0" font-size="8" text-anchor="middle" fill="#111" class="t" transform="translate(500.10 318.00) scale(0.88 1)">5</text>
<line x1="525.60" y1="306.00" x2="525.60" y2="309.00" stroke="#1a1a1a" stroke-width="1.3" />
<text x="0" y="0" font-size="8" text-anchor="middle" fill="#111" class="t" transform="translate(525.60 318.00) scale(0.88 1)">9</text>
<line x1="551.10" y1="306.00" x2="551.10" y2="309.00" stroke="#1a1a1a" stroke-width="1.3" />
<text x="0" y="0" font-size="8" text-anchor="middle" fill="#111" class="t" transform="translate(551.10 318.00) scale(0.88 1)">12</text>
<line x1="576.60" y1="306.00" x2="576.60" y2="309.00" stroke="#1a1a1a" stroke-width="1.3" />
<text x="0" y="0" font-size="8" text-anchor="middle" fill="#111" class="t" transform="translate(576.60 318.00) scale(0.88 1)">14</text>
<text x="512.80" y="333.50" font-size="8.5" text-anchor="middle" fill="#111" class="t">Days</text>
<text x="0" y="0" font-size="11.4" text-anchor="middle" fill="#111" class="t" transform="translate(413.00 251.50) rotate(-90)">Body weight (g)</text>
<polyline points="449.10,218.26 474.60,217.40 500.10,216.98 525.60,215.26 551.10,214.84 576.60,212.70" fill="none" stroke="#0000f0" stroke-width="1.3" stroke-linejoin="round"/>
<line x1="449.10" y1="216.55" x2="449.10" y2="219.97" stroke="#0000f0" stroke-width="1.3" />
<line x1="446.90" y1="216.55" x2="451.30" y2="216.55" stroke="#0000f0" stroke-width="1.3" />
<line x1="446.90" y1="219.97" x2="451.30" y2="219.97" stroke="#0000f0" stroke-width="1.3" />
<circle cx="449.10" cy="218.26" r="2.5" fill="#0000f0"/>
<line x1="474.60" y1="215.69" x2="474.60" y2="219.12" stroke="#0000f0" stroke-width="1.3" />
<line x1="472.40" y1="215.69" x2="476.80" y2="215.69" stroke="#0000f0" stroke-width="1.3" />
<line x1="472.40" y1="219.12" x2="476.80" y2="219.12" stroke="#0000f0" stroke-width="1.3" />
<circle cx="474.60" cy="217.40" r="2.5" fill="#0000f0"/>
<line x1="500.10" y1="215.26" x2="500.10" y2="218.69" stroke="#0000f0" stroke-width="1.3" />
<line x1="497.90" y1="215.26" x2="502.30" y2="215.26" stroke="#0000f0" stroke-width="1.3" />
<line x1="497.90" y1="218.69" x2="502.30" y2="218.69" stroke="#0000f0" stroke-width="1.3" />
<circle cx="500.10" cy="216.98" r="2.5" fill="#0000f0"/>
<line x1="525.60" y1="213.55" x2="525.60" y2="216.98" stroke="#0000f0" stroke-width="1.3" />
<line x1="523.40" y1="213.55" x2="527.80" y2="213.55" stroke="#0000f0" stroke-width="1.3" />
<line x1="523.40" y1="216.98" x2="527.80" y2="216.98" stroke="#0000f0" stroke-width="1.3" />
<circle cx="525.60" cy="215.26" r="2.5" fill="#0000f0"/>
<line x1="551.10" y1="213.12" x2="551.10" y2="216.55" stroke="#0000f0" stroke-width="1.3" />
<line x1="548.90" y1="213.12" x2="553.30" y2="213.12" stroke="#0000f0" stroke-width="1.3" />
<line x1="548.90" y1="216.55" x2="553.30" y2="216.55" stroke="#0000f0" stroke-width="1.3" />
<circle cx="551.10" cy="214.84" r="2.5" fill="#0000f0"/>
<line x1="576.60" y1="210.98" x2="576.60" y2="214.41" stroke="#0000f0" stroke-width="1.3" />
<line x1="574.40" y1="210.98" x2="578.80" y2="210.98" stroke="#0000f0" stroke-width="1.3" />
<line x1="574.40" y1="214.41" x2="578.80" y2="214.41" stroke="#0000f0" stroke-width="1.3" />
<circle cx="576.60" cy="212.70" r="2.5" fill="#0000f0"/>
<polyline points="449.10,216.12 474.60,216.12 500.10,216.12 525.60,215.26 551.10,217.40 576.60,213.98" fill="none" stroke="#ff0000" stroke-width="1.3" stroke-linejoin="round"/>
<line x1="449.10" y1="214.41" x2="449.10" y2="217.83" stroke="#ff0000" stroke-width="1.3" />
<line x1="446.90" y1="214.41" x2="451.30" y2="214.41" stroke="#ff0000" stroke-width="1.3" />
<line x1="446.90" y1="217.83" x2="451.30" y2="217.83" stroke="#ff0000" stroke-width="1.3" />
<rect x="446.60" y="213.62" width="5.00" height="5.00" fill="#ff0000"/>
<line x1="474.60" y1="214.41" x2="474.60" y2="217.83" stroke="#ff0000" stroke-width="1.3" />
<line x1="472.40" y1="214.41" x2="476.80" y2="214.41" stroke="#ff0000" stroke-width="1.3" />
<line x1="472.40" y1="217.83" x2="476.80" y2="217.83" stroke="#ff0000" stroke-width="1.3" />
<rect x="472.10" y="213.62" width="5.00" height="5.00" fill="#ff0000"/>
<line x1="500.10" y1="214.41" x2="500.10" y2="217.83" stroke="#ff0000" stroke-width="1.3" />
<line x1="497.90" y1="214.41" x2="502.30" y2="214.41" stroke="#ff0000" stroke-width="1.3" />
<line x1="497.90" y1="217.83" x2="502.30" y2="217.83" stroke="#ff0000" stroke-width="1.3" />
<rect x="497.60" y="213.62" width="5.00" height="5.00" fill="#ff0000"/>
<line x1="525.60" y1="213.55" x2="525.60" y2="216.98" stroke="#ff0000" stroke-width="1.3" />
<line x1="523.40" y1="213.55" x2="527.80" y2="213.55" stroke="#ff0000" stroke-width="1.3" />
<line x1="523.40" y1="216.98" x2="527.80" y2="216.98" stroke="#ff0000" stroke-width="1.3" />
<rect x="523.10" y="212.76" width="5.00" height="5.00" fill="#ff0000"/>
<line x1="551.10" y1="215.69" x2="551.10" y2="219.12" stroke="#ff0000" stroke-width="1.3" />
<line x1="548.90" y1="215.69" x2="553.30" y2="215.69" stroke="#ff0000" stroke-width="1.3" />
<line x1="548.90" y1="219.12" x2="553.30" y2="219.12" stroke="#ff0000" stroke-width="1.3" />
<rect x="548.60" y="214.90" width="5.00" height="5.00" fill="#ff0000"/>
<line x1="576.60" y1="212.27" x2="576.60" y2="215.69" stroke="#ff0000" stroke-width="1.3" />
<line x1="574.40" y1="212.27" x2="578.80" y2="212.27" stroke="#ff0000" stroke-width="1.3" />
<line x1="574.40" y1="215.69" x2="578.80" y2="215.69" stroke="#ff0000" stroke-width="1.3" />
<rect x="574.10" y="211.48" width="5.00" height="5.00" fill="#ff0000"/>
<polyline points="449.10,214.84 474.60,214.84 500.10,214.84 525.60,213.12 551.10,213.12 576.60,211.84" fill="none" stroke="#00bb00" stroke-width="1.3" stroke-linejoin="round"/>
<line x1="449.10" y1="213.12" x2="449.10" y2="216.55" stroke="#00bb00" stroke-width="1.3" />
<line x1="446.90" y1="213.12" x2="451.30" y2="213.12" stroke="#00bb00" stroke-width="1.3" />
<line x1="446.90" y1="216.55" x2="451.30" y2="216.55" stroke="#00bb00" stroke-width="1.3" />
<polygon points="449.10,211.96 451.85,217.14 446.35,217.14" fill="#00bb00"/>
<line x1="474.60" y1="213.12" x2="474.60" y2="216.55" stroke="#00bb00" stroke-width="1.3" />
<line x1="472.40" y1="213.12" x2="476.80" y2="213.12" stroke="#00bb00" stroke-width="1.3" />
<line x1="472.40" y1="216.55" x2="476.80" y2="216.55" stroke="#00bb00" stroke-width="1.3" />
<polygon points="474.60,211.96 477.35,217.14 471.85,217.14" fill="#00bb00"/>
<line x1="500.10" y1="213.12" x2="500.10" y2="216.55" stroke="#00bb00" stroke-width="1.3" />
<line x1="497.90" y1="213.12" x2="502.30" y2="213.12" stroke="#00bb00" stroke-width="1.3" />
<line x1="497.90" y1="216.55" x2="502.30" y2="216.55" stroke="#00bb00" stroke-width="1.3" />
<polygon points="500.10,211.96 502.85,217.14 497.35,217.14" fill="#00bb00"/>
<line x1="525.60" y1="211.41" x2="525.60" y2="214.84" stroke="#00bb00" stroke-width="1.3" />
<line x1="523.40" y1="211.41" x2="527.80" y2="211.41" stroke="#00bb00" stroke-width="1.3" />
<line x1="523.40" y1="214.84" x2="527.80" y2="214.84" stroke="#00bb00" stroke-width="1.3" />
<polygon points="525.60,210.25 528.35,215.42 522.85,215.42" fill="#00bb00"/>
<line x1="551.10" y1="211.41" x2="551.10" y2="214.84" stroke="#00bb00" stroke-width="1.3" />
<line x1="548.90" y1="211.41" x2="553.30" y2="211.41" stroke="#00bb00" stroke-width="1.3" />
<line x1="548.90" y1="214.84" x2="553.30" y2="214.84" stroke="#00bb00" stroke-width="1.3" />
<polygon points="551.10,210.25 553.85,215.42 548.35,215.42" fill="#00bb00"/>
<line x1="576.60" y1="210.13" x2="576.60" y2="213.55" stroke="#00bb00" stroke-width="1.3" />
<line x1="574.40" y1="210.13" x2="578.80" y2="210.13" stroke="#00bb00" stroke-width="1.3" />
<line x1="574.40" y1="213.55" x2="578.80" y2="213.55" stroke="#00bb00" stroke-width="1.3" />
<polygon points="576.60,208.97 579.35,214.14 573.85,214.14" fill="#00bb00"/>
<polyline points="449.10,219.54 474.60,218.69 500.10,221.26 525.60,219.97 551.10,224.68 576.60,220.40" fill="none" stroke="#a000e6" stroke-width="1.3" stroke-linejoin="round"/>
<line x1="449.10" y1="217.40" x2="449.10" y2="221.68" stroke="#a000e6" stroke-width="1.3" />
<line x1="446.90" y1="217.40" x2="451.30" y2="217.40" stroke="#a000e6" stroke-width="1.3" />
<line x1="446.90" y1="221.68" x2="451.30" y2="221.68" stroke="#a000e6" stroke-width="1.3" />
<polygon points="449.10,222.42 451.85,217.24 446.35,217.24" fill="#a000e6"/>
<line x1="474.60" y1="216.98" x2="474.60" y2="220.40" stroke="#a000e6" stroke-width="1.3" />
<line x1="472.40" y1="216.98" x2="476.80" y2="216.98" stroke="#a000e6" stroke-width="1.3" />
<line x1="472.40" y1="220.40" x2="476.80" y2="220.40" stroke="#a000e6" stroke-width="1.3" />
<polygon points="474.60,221.56 477.35,216.39 471.85,216.39" fill="#a000e6"/>
<line x1="500.10" y1="218.69" x2="500.10" y2="223.82" stroke="#a000e6" stroke-width="1.3" />
<line x1="497.90" y1="218.69" x2="502.30" y2="218.69" stroke="#a000e6" stroke-width="1.3" />
<line x1="497.90" y1="223.82" x2="502.30" y2="223.82" stroke="#a000e6" stroke-width="1.3" />
<polygon points="500.10,224.13 502.85,218.96 497.35,218.96" fill="#a000e6"/>
<line x1="525.60" y1="217.83" x2="525.60" y2="222.11" stroke="#a000e6" stroke-width="1.3" />
<line x1="523.40" y1="217.83" x2="527.80" y2="217.83" stroke="#a000e6" stroke-width="1.3" />
<line x1="523.40" y1="222.11" x2="527.80" y2="222.11" stroke="#a000e6" stroke-width="1.3" />
<polygon points="525.60,222.85 528.35,217.67 522.85,217.67" fill="#a000e6"/>
<line x1="551.10" y1="222.11" x2="551.10" y2="227.25" stroke="#a000e6" stroke-width="1.3" />
<line x1="548.90" y1="222.11" x2="553.30" y2="222.11" stroke="#a000e6" stroke-width="1.3" />
<line x1="548.90" y1="227.25" x2="553.30" y2="227.25" stroke="#a000e6" stroke-width="1.3" />
<polygon points="551.10,227.56 553.85,222.38 548.35,222.38" fill="#a000e6"/>
<line x1="576.60" y1="217.83" x2="576.60" y2="222.97" stroke="#a000e6" stroke-width="1.3" />
<line x1="574.40" y1="217.83" x2="578.80" y2="217.83" stroke="#a000e6" stroke-width="1.3" />
<line x1="574.40" y1="222.97" x2="578.80" y2="222.97" stroke="#a000e6" stroke-width="1.3" />
<polygon points="576.60,223.28 579.35,218.10 573.85,218.10" fill="#a000e6"/>
<line x1="443.20" y1="265.20" x2="454.20" y2="265.20" stroke="#0000f0" stroke-width="1.3" />
<circle cx="448.70" cy="265.20" r="2.3" fill="#0000f0"/>
<text x="460.40" y="268.37" font-size="8.8" text-anchor="start" fill="#111" class="t">Vehicle control</text>
<line x1="531.30" y1="265.20" x2="542.30" y2="265.20" stroke="#ff0000" stroke-width="1.3" />
<rect x="534.50" y="262.90" width="4.60" height="4.60" fill="#ff0000"/>
<text x="548.20" y="268.37" font-size="8.8" text-anchor="start" fill="#111" class="t">Radiation</text>
<line x1="443.20" y1="279.60" x2="454.20" y2="279.60" stroke="#00bb00" stroke-width="1.3" />
<polygon points="448.70,276.96 451.23,281.72 446.17,281.72" fill="#00bb00"/>
<text x="460.40" y="282.77" font-size="8.8" text-anchor="start" fill="#111" class="t">BAP2</text>
<line x1="502.20" y1="279.60" x2="513.20" y2="279.60" stroke="#a000e6" stroke-width="1.3" />
<polygon points="507.70,282.25 510.23,277.48 505.17,277.48" fill="#a000e6"/>
<text x="519.60" y="282.77" font-size="8.8" text-anchor="start" fill="#111" class="t">BAP2+Radiation</text>
<text x="601.40" y="167.50" font-size="12.5" text-anchor="start" fill="#111" class="t">E</text>
<line x1="625.30" y1="203.00" x2="625.30" y2="306.60" stroke="#1a1a1a" stroke-width="1.3" />
<line x1="622.30" y1="203.00" x2="625.30" y2="203.00" stroke="#1a1a1a" stroke-width="1.3" />
<text x="0" y="0" font-size="7.5" text-anchor="end" fill="#111" class="t" transform="translate(621.10 205.70) scale(0.85 1)">20</text>
<line x1="622.30" y1="228.90" x2="625.30" y2="228.90" stroke="#1a1a1a" stroke-width="1.3" />
<text x="0" y="0" font-size="7.5" text-anchor="end" fill="#111" class="t" transform="translate(621.10 231.60) scale(0.85 1)">15</text>
<line x1="622.30" y1="254.80" x2="625.30" y2="254.80" stroke="#1a1a1a" stroke-width="1.3" />
<text x="0" y="0" font-size="7.5" text-anchor="end" fill="#111" class="t" transform="translate(621.10 257.50) scale(0.85 1)">10</text>
<line x1="622.30" y1="280.70" x2="625.30" y2="280.70" stroke="#1a1a1a" stroke-width="1.3" />
<text x="0" y="0" font-size="7.5" text-anchor="end" fill="#111" class="t" transform="translate(621.10 283.40) scale(0.85 1)">5</text>
<line x1="622.30" y1="306.60" x2="625.30" y2="306.60" stroke="#1a1a1a" stroke-width="1.3" />
<text x="0" y="0" font-size="7.5" text-anchor="end" fill="#111" class="t" transform="translate(621.10 309.30) scale(0.85 1)">0</text>
<line x1="625.30" y1="306.60" x2="782.40" y2="306.60" stroke="#1a1a1a" stroke-width="1.3" />
<line x1="645.10" y1="306.60" x2="645.10" y2="309.60" stroke="#1a1a1a" stroke-width="1.3" />
<line x1="684.70" y1="306.60" x2="684.70" y2="309.60" stroke="#1a1a1a" stroke-width="1.3" />
<line x1="723.00" y1="306.60" x2="723.00" y2="309.60" stroke="#1a1a1a" stroke-width="1.3" />
<line x1="762.00" y1="306.60" x2="762.00" y2="309.60" stroke="#1a1a1a" stroke-width="1.3" />
<line x1="632.50" y1="291.63" x2="657.70" y2="291.63" stroke="#0000f0" stroke-width="1.4" />
<line x1="645.10" y1="296.24" x2="645.10" y2="285.88" stroke="#0000f0" stroke-width="1.5" />
<line x1="642.10" y1="296.24" x2="648.10" y2="296.24" stroke="#0000f0" stroke-width="1.5" />
<line x1="642.10" y1="285.88" x2="648.10" y2="285.88" stroke="#0000f0" stroke-width="1.5" />
<circle cx="639.10" cy="285.88" r="2.1" fill="#0000f0"/>
<circle cx="645.10" cy="285.88" r="2.1" fill="#0000f0"/>
<circle cx="651.30" cy="285.88" r="2.1" fill="#0000f0"/>
<circle cx="640.00" cy="296.50" r="2.1" fill="#0000f0"/>
<circle cx="645.10" cy="296.50" r="2.1" fill="#0000f0"/>
<circle cx="650.30" cy="296.50" r="2.1" fill="#0000f0"/>
<circle cx="655.50" cy="296.50" r="2.1" fill="#0000f0"/>
<circle cx="635.00" cy="291.32" r="2.1" fill="#0000f0"/>
<line x1="672.00" y1="258.12" x2="697.40" y2="258.12" stroke="#ff0000" stroke-width="1.4" />
<line x1="684.70" y1="268.53" x2="684.70" y2="248.58" stroke="#ff0000" stroke-width="1.5" />
<line x1="678.10" y1="268.53" x2="691.30" y2="268.53" stroke="#ff0000" stroke-width="1.5" />
<line x1="678.10" y1="248.58" x2="691.30" y2="248.58" stroke="#ff0000" stroke-width="1.5" />
<rect x="672.60" y="248.04" width="4.20" height="4.20" fill="#ff0000"/>
<rect x="678.20" y="253.74" width="4.20" height="4.20" fill="#ff0000"/>
<rect x="683.90" y="253.74" width="4.20" height="4.20" fill="#ff0000"/>
<rect x="692.50" y="253.74" width="4.20" height="4.20" fill="#ff0000"/>
<rect x="682.00" y="273.94" width="4.20" height="4.20" fill="#ff0000"/>
<line x1="710.10" y1="273.45" x2="735.90" y2="273.45" stroke="#00bb00" stroke-width="1.4" />
<line x1="723.00" y1="304.17" x2="723.00" y2="242.89" stroke="#00bb00" stroke-width="1.5" />
<line x1="716.50" y1="304.17" x2="729.50" y2="304.17" stroke="#00bb00" stroke-width="1.5" />
<line x1="716.50" y1="242.89" x2="729.50" y2="242.89" stroke="#00bb00" stroke-width="1.5" />
<polygon points="723.00,216.64 725.31,220.99 720.69,220.99" fill="#00bb00"/>
<polygon points="723.00,253.94 725.31,258.29 720.69,258.29" fill="#00bb00"/>
<polygon points="723.00,271.03 725.31,275.38 720.69,275.38" fill="#00bb00"/>
<polygon points="716.40,290.20 718.71,294.55 714.09,294.55" fill="#00bb00"/>
<polygon points="729.70,290.20 732.01,294.55 727.39,294.55" fill="#00bb00"/>
<polygon points="723.00,285.02 725.31,289.37 720.69,289.37" fill="#00bb00"/>
<polygon points="723.00,295.90 725.31,300.24 720.69,300.24" fill="#00bb00"/>
<line x1="749.30" y1="261.53" x2="774.70" y2="261.53" stroke="#a000e6" stroke-width="1.4" />
<line x1="762.00" y1="280.18" x2="762.00" y2="243.40" stroke="#a000e6" stroke-width="1.5" />
<line x1="755.70" y1="280.18" x2="768.30" y2="280.18" stroke="#a000e6" stroke-width="1.5" />
<line x1="755.70" y1="243.40" x2="768.30" y2="243.40" stroke="#a000e6" stroke-width="1.5" />
<polygon points="762.00,231.31 764.31,226.97 759.69,226.97" fill="#a000e6"/>
<polygon points="762.00,252.03 764.31,247.69 759.69,247.69" fill="#a000e6"/>
<polygon points="762.00,267.06 764.31,262.71 759.69,262.71" fill="#a000e6"/>
<polygon points="755.30,273.27 757.61,268.93 752.99,268.93" fill="#a000e6"/>
<polygon points="762.00,277.94 764.31,273.59 759.69,273.59" fill="#a000e6"/>
<polygon points="768.50,277.94 770.81,273.59 766.19,273.59" fill="#a000e6"/>
<text x="0" y="0" font-size="7.7" text-anchor="end" fill="#111" class="t" transform="translate(645.80 317.60) rotate(-45)">Vehicle control</text>
<text x="0" y="0" font-size="7.7" text-anchor="end" fill="#111" class="t" transform="translate(685.40 317.60) rotate(-45)">Radiation</text>
<text x="0" y="0" font-size="7.7" text-anchor="end" fill="#111" class="t" transform="translate(723.70 317.60) rotate(-45)">BAP2</text>
<text x="0" y="0" font-size="7.7" text-anchor="end" fill="#111" class="t" transform="translate(762.70 317.60) rotate(-45)">BAP2+Radiation</text>
<text x="0" y="0" font-size="9.85" text-anchor="middle" fill="#111" class="t" transform="translate(607.20 255.00) scale(0.85 1) rotate(-90)">Tumor doubling time (days)</text>
<text x="600.00" y="377.50" font-size="12.5" text-anchor="start" fill="#111" class="t">I</text>
<line x1="630.10" y1="404.90" x2="630.10" y2="509.20" stroke="#1a1a1a" stroke-width="1.3" />
<line x1="627.10" y1="404.90" x2="630.10" y2="404.90" stroke="#1a1a1a" stroke-width="1.3" />
<text x="625.90" y="407.60" font-size="7.5" text-anchor="end" fill="#111" class="t">20</text>
<line x1="627.10" y1="430.97" x2="630.10" y2="430.97" stroke="#1a1a1a" stroke-width="1.3" />
<text x="625.90" y="433.67" font-size="7.5" text-anchor="end" fill="#111" class="t">15</text>
<line x1="627.10" y1="457.05" x2="630.10" y2="457.05" stroke="#1a1a1a" stroke-width="1.3" />
<text x="625.90" y="459.75" font-size="7.5" text-anchor="end" fill="#111" class="t">10</text>
<line x1="627.10" y1="483.12" x2="630.10" y2="483.12" stroke="#1a1a1a" stroke-width="1.3" />
<text x="625.90" y="485.82" font-size="7.5" text-anchor="end" fill="#111" class="t">5</text>
<line x1="627.10" y1="509.20" x2="630.10" y2="509.20" stroke="#1a1a1a" stroke-width="1.3" />
<text x="625.90" y="511.90" font-size="7.5" text-anchor="end" fill="#111" class="t">0</text>
<line x1="630.10" y1="509.20" x2="786.20" y2="509.20" stroke="#1a1a1a" stroke-width="1.3" />
<line x1="653.80" y1="509.20" x2="653.80" y2="512.20" stroke="#1a1a1a" stroke-width="1.3" />
<line x1="690.80" y1="509.20" x2="690.80" y2="512.20" stroke="#1a1a1a" stroke-width="1.3" />
<line x1="726.00" y1="509.20" x2="726.00" y2="512.20" stroke="#1a1a1a" stroke-width="1.3" />
<line x1="762.20" y1="509.20" x2="762.20" y2="512.20" stroke="#1a1a1a" stroke-width="1.3" />
<line x1="642.30" y1="487.82" x2="665.30" y2="487.82" stroke="#0000f0" stroke-width="1.4" />
<line x1="653.80" y1="489.38" x2="653.80" y2="486.25" stroke="#0000f0" stroke-width="1.5" />
<line x1="650.80" y1="489.38" x2="656.80" y2="489.38" stroke="#0000f0" stroke-width="1.5" />
<line x1="650.80" y1="486.25" x2="656.80" y2="486.25" stroke="#0000f0" stroke-width="1.5" />
<circle cx="643.30" cy="487.82" r="2.0" fill="#0000f0"/>
<circle cx="648.30" cy="487.82" r="2.0" fill="#0000f0"/>
<circle cx="653.80" cy="487.82" r="2.0" fill="#0000f0"/>
<circle cx="658.80" cy="487.82" r="2.0" fill="#0000f0"/>
<circle cx="663.30" cy="487.82" r="2.0" fill="#0000f0"/>
<circle cx="653.80" cy="482.08" r="2.0" fill="#0000f0"/>
<circle cx="653.80" cy="493.56" r="2.0" fill="#0000f0"/>
<line x1="679.80" y1="466.96" x2="701.80" y2="466.96" stroke="#ff0000" stroke-width="1.4" />
<line x1="690.80" y1="469.57" x2="690.80" y2="464.35" stroke="#ff0000" stroke-width="1.5" />
<line x1="685.80" y1="469.57" x2="695.80" y2="469.57" stroke="#ff0000" stroke-width="1.5" />
<line x1="685.80" y1="464.35" x2="695.80" y2="464.35" stroke="#ff0000" stroke-width="1.5" />
<rect x="688.00" y="454.79" width="4.00" height="4.00" fill="#ff0000"/>
<rect x="678.60" y="460.00" width="4.00" height="4.00" fill="#ff0000"/>
<rect x="697.60" y="464.96" width="4.00" height="4.00" fill="#ff0000"/>
<rect x="685.80" y="464.96" width="4.00" height="4.00" fill="#ff0000"/>
<rect x="690.80" y="464.96" width="4.00" height="4.00" fill="#ff0000"/>
<rect x="691.00" y="470.69" width="4.00" height="4.00" fill="#ff0000"/>
<rect x="684.60" y="475.39" width="4.00" height="4.00" fill="#ff0000"/>
<line x1="714.50" y1="476.35" x2="737.50" y2="476.35" stroke="#00bb00" stroke-width="1.4" />
<line x1="726.00" y1="478.95" x2="726.00" y2="473.74" stroke="#00bb00" stroke-width="1.5" />
<line x1="721.00" y1="478.95" x2="731.00" y2="478.95" stroke="#00bb00" stroke-width="1.5" />
<line x1="721.00" y1="473.74" x2="731.00" y2="473.74" stroke="#00bb00" stroke-width="1.5" />
<polygon points="726.00,459.96 728.20,464.10 723.80,464.10" fill="#00bb00"/>
<polygon points="716.80,470.39 719.00,474.53 714.60,474.53" fill="#00bb00"/>
<polygon points="735.00,470.39 737.20,474.53 732.80,474.53" fill="#00bb00"/>
<polygon points="721.00,475.09 723.20,479.23 718.80,479.23" fill="#00bb00"/>
<polygon points="726.00,475.09 728.20,479.23 723.80,479.23" fill="#00bb00"/>
<polygon points="731.00,475.09 733.20,479.23 728.80,479.23" fill="#00bb00"/>
<polygon points="718.70,480.82 720.90,484.96 716.50,484.96" fill="#00bb00"/>
<polygon points="732.40,480.82 734.60,484.96 730.20,484.96" fill="#00bb00"/>
<polygon points="726.00,486.04 728.20,490.18 723.80,490.18" fill="#00bb00"/>
<line x1="750.60" y1="466.96" x2="773.80" y2="466.96" stroke="#a000e6" stroke-width="1.4" />
<line x1="762.20" y1="472.17" x2="762.20" y2="460.70" stroke="#a000e6" stroke-width="1.5" />
<line x1="756.70" y1="472.17" x2="767.70" y2="472.17" stroke="#a000e6" stroke-width="1.5" />
<line x1="756.70" y1="460.70" x2="767.70" y2="460.70" stroke="#a000e6" stroke-width="1.5" />
<polygon points="762.20,428.06 764.40,423.92 760.00,423.92" fill="#a000e6"/>
<polygon points="762.20,458.83 764.40,454.69 760.00,454.69" fill="#a000e6"/>
<polygon points="753.10,469.26 755.30,465.12 750.90,465.12" fill="#a000e6"/>
<polygon points="771.20,469.26 773.40,465.12 769.00,465.12" fill="#a000e6"/>
<polygon points="759.20,475.00 761.40,470.86 757.00,470.86" fill="#a000e6"/>
<polygon points="765.20,475.00 767.40,470.86 763.00,470.86" fill="#a000e6"/>
<polygon points="762.20,475.00 764.40,470.86 760.00,470.86" fill="#a000e6"/>
<polygon points="755.40,479.17 757.60,475.03 753.20,475.03" fill="#a000e6"/>
<polygon points="768.20,479.17 770.40,475.03 766.00,475.03" fill="#a000e6"/>
<polygon points="762.20,484.90 764.40,480.76 760.00,480.76" fill="#a000e6"/>
<text x="0" y="0" font-size="7.7" text-anchor="end" fill="#111" class="t" transform="translate(654.50 520.50) rotate(-45)">Vehicle control</text>
<text x="0" y="0" font-size="7.7" text-anchor="end" fill="#111" class="t" transform="translate(691.50 520.50) rotate(-45)">TMZ</text>
<text x="0" y="0" font-size="7.7" text-anchor="end" fill="#111" class="t" transform="translate(726.70 520.50) rotate(-45)">BAP2</text>
<text x="0" y="0" font-size="7.7" text-anchor="end" fill="#111" class="t" transform="translate(762.90 520.50) rotate(-45)">BAP2+TMZ</text>
<text x="0" y="0" font-size="10.0" text-anchor="middle" fill="#111" class="t" transform="translate(612.30 456.30) scale(0.9 1) rotate(-90)">Tumor doubling time (days)</text>
<text x="19.20" y="378.70" font-size="12.5" text-anchor="start" fill="#111" class="t">F</text>
<line x1="41.20" y1="405.00" x2="41.20" y2="509.10" stroke="#1a1a1a" stroke-width="1.3" />
<line x1="38.20" y1="405.00" x2="41.20" y2="405.00" stroke="#1a1a1a" stroke-width="1.3" />
<text x="37.00" y="407.74" font-size="7.6" text-anchor="end" fill="#111" class="t">2000</text>
<line x1="38.20" y1="431.02" x2="41.20" y2="431.02" stroke="#1a1a1a" stroke-width="1.3" />
<text x="37.00" y="433.76" font-size="7.6" text-anchor="end" fill="#111" class="t">1500</text>
<line x1="38.20" y1="457.05" x2="41.20" y2="457.05" stroke="#1a1a1a" stroke-width="1.3" />
<text x="37.00" y="459.79" font-size="7.6" text-anchor="end" fill="#111" class="t">1000</text>
<line x1="38.20" y1="483.08" x2="41.20" y2="483.08" stroke="#1a1a1a" stroke-width="1.3" />
<text x="37.00" y="485.81" font-size="7.6" text-anchor="end" fill="#111" class="t">500</text>
<line x1="38.20" y1="509.10" x2="41.20" y2="509.10" stroke="#1a1a1a" stroke-width="1.3" />
<text x="37.00" y="511.84" font-size="7.6" text-anchor="end" fill="#111" class="t">0</text>
<line x1="41.20" y1="509.10" x2="196.20" y2="509.10" stroke="#1a1a1a" stroke-width="1.3" />
<line x1="57.40" y1="509.10" x2="57.40" y2="512.10" stroke="#1a1a1a" stroke-width="1.3" />
<text x="0" y="0" font-size="8" text-anchor="middle" fill="#111" class="t" transform="translate(57.40 520.00) scale(0.88 1)">0</text>
<line x1="82.00" y1="509.10" x2="82.00" y2="512.10" stroke="#1a1a1a" stroke-width="1.3" />
<text x="0" y="0" font-size="8" text-anchor="middle" fill="#111" class="t" transform="translate(82.00 520.00) scale(0.88 1)">4</text>
<line x1="106.60" y1="509.10" x2="106.60" y2="512.10" stroke="#1a1a1a" stroke-width="1.3" />
<text x="0" y="0" font-size="8" text-anchor="middle" fill="#111" class="t" transform="translate(106.60 520.00) scale(0.88 1)">7</text>
<line x1="131.20" y1="509.10" x2="131.20" y2="512.10" stroke="#1a1a1a" stroke-width="1.3" />
<text x="0" y="0" font-size="8" text-anchor="middle" fill="#111" class="t" transform="translate(131.20 520.00) scale(0.88 1)">12</text>
<line x1="155.80" y1="509.10" x2="155.80" y2="512.10" stroke="#1a1a1a" stroke-width="1.3" />
<text x="0" y="0" font-size="8" text-anchor="middle" fill="#111" class="t" transform="translate(155.80 520.00) scale(0.88 1)">14</text>
<line x1="180.40" y1="509.10" x2="180.40" y2="512.10" stroke="#1a1a1a" stroke-width="1.3" />
<text x="0" y="0" font-size="8" text-anchor="middle" fill="#111" class="t" transform="translate(180.40 520.00) scale(0.88 1)">18</text>
<polygon points="57.80,530.20 63.80,530.20 60.80,522.70" fill="#111"/>
<polygon points="63.40,530.20 69.40,530.20 66.40,522.70" fill="#111"/>
<polygon points="69.00,530.20 75.00,530.20 72.00,522.70" fill="#111"/>
<polygon points="74.60,530.20 80.60,530.20 77.60,522.70" fill="#111"/>
<polygon points="80.20,530.20 86.20,530.20 83.20,522.70" fill="#111"/>
<polygon points="109.20,530.20 115.00,530.20 112.10,522.70" fill="#111"/>
<polygon points="113.83,530.20 119.62,530.20 116.73,522.70" fill="#111"/>
<polygon points="118.45,530.20 124.25,530.20 121.35,522.70" fill="#111"/>
<polygon points="123.08,530.20 128.88,530.20 125.98,522.70" fill="#111"/>
<polygon points="127.70,530.20 133.50,530.20 130.60,522.70" fill="#111"/>
<text x="119.00" y="545.20" font-size="8.5" text-anchor="middle" fill="#111" class="t">Days</text>
<text x="0" y="0" font-size="11" text-anchor="middle" fill="#111" class="t" transform="translate(14.80 457.70) rotate(-90)">Tumor volume (mm<tspan font-size="7.5" dy="-4.5">3</tspan><tspan dy="4.5">)</tspan></text>
<polyline points="57.40,502.33 82.00,488.80 106.60,471.62 131.20,432.07" fill="none" stroke="#0000f0" stroke-width="1.1" stroke-linejoin="round"/>
<line x1="57.40" y1="501.29" x2="57.40" y2="503.37" stroke="#0000f0" stroke-width="1.3" />
<line x1="55.20" y1="501.29" x2="59.60" y2="501.29" stroke="#0000f0" stroke-width="1.3" />
<line x1="55.20" y1="503.37" x2="59.60" y2="503.37" stroke="#0000f0" stroke-width="1.3" />
<circle cx="57.40" cy="502.33" r="2.5" fill="#0000f0"/>
<line x1="82.00" y1="483.60" x2="82.00" y2="494.01" stroke="#0000f0" stroke-width="1.3" />
<line x1="79.80" y1="483.60" x2="84.20" y2="483.60" stroke="#0000f0" stroke-width="1.3" />
<line x1="79.80" y1="494.01" x2="84.20" y2="494.01" stroke="#0000f0" stroke-width="1.3" />
<circle cx="82.00" cy="488.80" r="2.5" fill="#0000f0"/>
<line x1="106.60" y1="464.34" x2="106.60" y2="478.91" stroke="#0000f0" stroke-width="1.3" />
<line x1="104.40" y1="464.34" x2="108.80" y2="464.34" stroke="#0000f0" stroke-width="1.3" />
<line x1="104.40" y1="478.91" x2="108.80" y2="478.91" stroke="#0000f0" stroke-width="1.3" />
<circle cx="106.60" cy="471.62" r="2.5" fill="#0000f0"/>
<line x1="131.20" y1="415.41" x2="131.20" y2="448.72" stroke="#0000f0" stroke-width="1.3" />
<line x1="129.00" y1="415.41" x2="133.40" y2="415.41" stroke="#0000f0" stroke-width="1.3" />
<line x1="129.00" y1="448.72" x2="133.40" y2="448.72" stroke="#0000f0" stroke-width="1.3" />
<circle cx="131.20" cy="432.07" r="2.5" fill="#0000f0"/>
<polyline points="57.40,502.33 82.00,491.40 106.60,482.55 131.20,463.82" fill="none" stroke="#00bb00" stroke-width="1.1" stroke-linejoin="round"/>
<line x1="57.40" y1="501.29" x2="57.40" y2="503.37" stroke="#00bb00" stroke-width="1.3" />
<line x1="55.20" y1="501.29" x2="59.60" y2="501.29" stroke="#00bb00" stroke-width="1.3" />
<line x1="55.20" y1="503.37" x2="59.60" y2="503.37" stroke="#00bb00" stroke-width="1.3" />
<polygon points="57.40,499.46 60.15,504.63 54.65,504.63" fill="#00bb00"/>
<line x1="82.00" y1="489.32" x2="82.00" y2="493.49" stroke="#00bb00" stroke-width="1.3" />
<line x1="79.80" y1="489.32" x2="84.20" y2="489.32" stroke="#00bb00" stroke-width="1.3" />
<line x1="79.80" y1="493.49" x2="84.20" y2="493.49" stroke="#00bb00" stroke-width="1.3" />
<polygon points="82.00,488.53 84.75,493.70 79.25,493.70" fill="#00bb00"/>
<line x1="106.60" y1="479.43" x2="106.60" y2="485.68" stroke="#00bb00" stroke-width="1.3" />
<line x1="104.40" y1="479.43" x2="108.80" y2="479.43" stroke="#00bb00" stroke-width="1.3" />
<line x1="104.40" y1="485.68" x2="108.80" y2="485.68" stroke="#00bb00" stroke-width="1.3" />
<polygon points="106.60,479.68 109.35,484.85 103.85,484.85" fill="#00bb00"/>
<line x1="131.20" y1="454.97" x2="131.20" y2="472.67" stroke="#00bb00" stroke-width="1.3" />
<line x1="129.00" y1="454.97" x2="133.40" y2="454.97" stroke="#00bb00" stroke-width="1.3" />
<line x1="129.00" y1="472.67" x2="133.40" y2="472.67" stroke="#00bb00" stroke-width="1.3" />
<polygon points="131.20,460.94 133.95,466.12 128.45,466.12" fill="#00bb00"/>
<polyline points="57.40,502.33 82.00,494.01 106.60,494.01 131.20,486.72 155.80,484.64 180.40,482.55" fill="none" stroke="#ff0000" stroke-width="1.1" stroke-linejoin="round"/>
<line x1="57.40" y1="501.29" x2="57.40" y2="503.37" stroke="#ff0000" stroke-width="1.3" />
<line x1="55.20" y1="501.29" x2="59.60" y2="501.29" stroke="#ff0000" stroke-width="1.3" />
<line x1="55.20" y1="503.37" x2="59.60" y2="503.37" stroke="#ff0000" stroke-width="1.3" />
<rect x="54.90" y="499.83" width="5.00" height="5.00" fill="#ff0000"/>
<line x1="82.00" y1="492.44" x2="82.00" y2="495.57" stroke="#ff0000" stroke-width="1.3" />
<line x1="79.80" y1="492.44" x2="84.20" y2="492.44" stroke="#ff0000" stroke-width="1.3" />
<line x1="79.80" y1="495.57" x2="84.20" y2="495.57" stroke="#ff0000" stroke-width="1.3" />
<rect x="79.50" y="491.51" width="5.00" height="5.00" fill="#ff0000"/>
<line x1="106.60" y1="492.44" x2="106.60" y2="495.57" stroke="#ff0000" stroke-width="1.3" />
<line x1="104.40" y1="492.44" x2="108.80" y2="492.44" stroke="#ff0000" stroke-width="1.3" />
<line x1="104.40" y1="495.57" x2="108.80" y2="495.57" stroke="#ff0000" stroke-width="1.3" />
<rect x="104.10" y="491.51" width="5.00" height="5.00" fill="#ff0000"/>
<line x1="131.20" y1="483.60" x2="131.20" y2="489.84" stroke="#ff0000" stroke-width="1.3" />
<line x1="129.00" y1="483.60" x2="133.40" y2="483.60" stroke="#ff0000" stroke-width="1.3" />
<line x1="129.00" y1="489.84" x2="133.40" y2="489.84" stroke="#ff0000" stroke-width="1.3" />
<rect x="128.70" y="484.22" width="5.00" height="5.00" fill="#ff0000"/>
<line x1="155.80" y1="481.51" x2="155.80" y2="487.76" stroke="#ff0000" stroke-width="1.3" />
<line x1="153.60" y1="481.51" x2="158.00" y2="481.51" stroke="#ff0000" stroke-width="1.3" />
<line x1="153.60" y1="487.76" x2="158.00" y2="487.76" stroke="#ff0000" stroke-width="1.3" />
<rect x="153.30" y="482.14" width="5.00" height="5.00" fill="#ff0000"/>
<line x1="180.40" y1="478.39" x2="180.40" y2="486.72" stroke="#ff0000" stroke-width="1.3" />
<line x1="178.20" y1="478.39" x2="182.60" y2="478.39" stroke="#ff0000" stroke-width="1.3" />
<line x1="178.20" y1="486.72" x2="182.60" y2="486.72" stroke="#ff0000" stroke-width="1.3" />
<rect x="177.90" y="480.05" width="5.00" height="5.00" fill="#ff0000"/>
<polyline points="57.40,502.33 82.00,492.96 106.60,490.36 131.20,485.68 155.80,484.64 180.40,483.08" fill="none" stroke="#a000e6" stroke-width="1.1" stroke-linejoin="round"/>
<line x1="57.40" y1="501.29" x2="57.40" y2="503.37" stroke="#a000e6" stroke-width="1.3" />
<line x1="55.20" y1="501.29" x2="59.60" y2="501.29" stroke="#a000e6" stroke-width="1.3" />
<line x1="55.20" y1="503.37" x2="59.60" y2="503.37" stroke="#a000e6" stroke-width="1.3" />
<polygon points="57.40,505.21 60.15,500.03 54.65,500.03" fill="#a000e6"/>
<line x1="82.00" y1="490.88" x2="82.00" y2="495.05" stroke="#a000e6" stroke-width="1.3" />
<line x1="79.80" y1="490.88" x2="84.20" y2="490.88" stroke="#a000e6" stroke-width="1.3" />
<line x1="79.80" y1="495.05" x2="84.20" y2="495.05" stroke="#a000e6" stroke-width="1.3" />
<polygon points="82.00,495.84 84.75,490.66 79.25,490.66" fill="#a000e6"/>
<line x1="106.60" y1="488.28" x2="106.60" y2="492.44" stroke="#a000e6" stroke-width="1.3" />
<line x1="104.40" y1="488.28" x2="108.80" y2="488.28" stroke="#a000e6" stroke-width="1.3" />
<line x1="104.40" y1="492.44" x2="108.80" y2="492.44" stroke="#a000e6" stroke-width="1.3" />
<polygon points="106.60,493.24 109.35,488.06 103.85,488.06" fill="#a000e6"/>
<line x1="131.20" y1="482.55" x2="131.20" y2="488.80" stroke="#a000e6" stroke-width="1.3" />
<line x1="129.00" y1="482.55" x2="133.40" y2="482.55" stroke="#a000e6" stroke-width="1.3" />
<line x1="129.00" y1="488.80" x2="133.40" y2="488.80" stroke="#a000e6" stroke-width="1.3" />
<polygon points="131.20,488.55 133.95,483.38 128.45,483.38" fill="#a000e6"/>
<line x1="155.80" y1="480.47" x2="155.80" y2="488.80" stroke="#a000e6" stroke-width="1.3" />
<line x1="153.60" y1="480.47" x2="158.00" y2="480.47" stroke="#a000e6" stroke-width="1.3" />
<line x1="153.60" y1="488.80" x2="158.00" y2="488.80" stroke="#a000e6" stroke-width="1.3" />
<polygon points="155.80,487.51 158.55,482.34 153.05,482.34" fill="#a000e6"/>
<line x1="180.40" y1="478.39" x2="180.40" y2="487.76" stroke="#a000e6" stroke-width="1.3" />
<line x1="178.20" y1="478.39" x2="182.60" y2="478.39" stroke="#a000e6" stroke-width="1.3" />
<line x1="178.20" y1="487.76" x2="182.60" y2="487.76" stroke="#a000e6" stroke-width="1.3" />
<polygon points="180.40,485.95 183.15,480.78 177.65,480.78" fill="#a000e6"/>
<line x1="49.70" y1="389.00" x2="60.70" y2="389.00" stroke="#0000f0" stroke-width="1.3" />
<circle cx="55.20" cy="389.00" r="2.3" fill="#0000f0"/>
<text x="66.80" y="392.06" font-size="8.5" text-anchor="start" fill="#111" class="t">Vehicle control</text>
<line x1="138.00" y1="389.00" x2="149.00" y2="389.00" stroke="#ff0000" stroke-width="1.3" />
<rect x="141.20" y="386.70" width="4.60" height="4.60" fill="#ff0000"/>
<text x="153.00" y="392.06" font-size="8.5" text-anchor="start" fill="#111" class="t">TMZ</text>
<line x1="49.70" y1="401.60" x2="60.70" y2="401.60" stroke="#00bb00" stroke-width="1.3" />
<polygon points="55.20,398.96 57.73,403.72 52.67,403.72" fill="#00bb00"/>
<text x="66.80" y="404.66" font-size="8.5" text-anchor="start" fill="#111" class="t">BAP2</text>
<line x1="112.20" y1="401.60" x2="123.20" y2="401.60" stroke="#a000e6" stroke-width="1.3" />
<polygon points="117.70,404.25 120.23,399.48 115.17,399.48" fill="#a000e6"/>
<text x="128.60" y="404.66" font-size="8.5" text-anchor="start" fill="#111" class="t">BAP2+TMZ</text>
<text x="407.70" y="377.10" font-size="12.5" text-anchor="start" fill="#111" class="t">H</text>
<line x1="434.10" y1="401.90" x2="434.10" y2="508.00" stroke="#1a1a1a" stroke-width="1.3" />
<line x1="431.10" y1="401.90" x2="434.10" y2="401.90" stroke="#1a1a1a" stroke-width="1.3" />
<text x="429.90" y="404.78" font-size="8" text-anchor="end" fill="#111" class="t">30</text>
<line x1="431.10" y1="437.27" x2="434.10" y2="437.27" stroke="#1a1a1a" stroke-width="1.3" />
<text x="429.90" y="440.15" font-size="8" text-anchor="end" fill="#111" class="t">20</text>
<line x1="431.10" y1="472.63" x2="434.10" y2="472.63" stroke="#1a1a1a" stroke-width="1.3" />
<text x="429.90" y="475.51" font-size="8" text-anchor="end" fill="#111" class="t">10</text>
<line x1="431.10" y1="508.00" x2="434.10" y2="508.00" stroke="#1a1a1a" stroke-width="1.3" />
<text x="429.90" y="510.88" font-size="8" text-anchor="end" fill="#111" class="t">0</text>
<line x1="434.10" y1="508.00" x2="598.00" y2="508.00" stroke="#1a1a1a" stroke-width="1.3" />
<line x1="458.90" y1="508.00" x2="458.90" y2="511.00" stroke="#1a1a1a" stroke-width="1.3" />
<text x="0" y="0" font-size="8" text-anchor="middle" fill="#111" class="t" transform="translate(458.90 520.00) scale(0.95 1)">0</text>
<line x1="496.70" y1="508.00" x2="496.70" y2="511.00" stroke="#1a1a1a" stroke-width="1.3" />
<text x="0" y="0" font-size="8" text-anchor="middle" fill="#111" class="t" transform="translate(496.70 520.00) scale(0.95 1)">4</text>
<line x1="534.50" y1="508.00" x2="534.50" y2="511.00" stroke="#1a1a1a" stroke-width="1.3" />
<text x="0" y="0" font-size="8" text-anchor="middle" fill="#111" class="t" transform="translate(534.50 520.00) scale(0.95 1)">11</text>
<line x1="572.30" y1="508.00" x2="572.30" y2="511.00" stroke="#1a1a1a" stroke-width="1.3" />
<text x="0" y="0" font-size="8" text-anchor="middle" fill="#111" class="t" transform="translate(572.30 520.00) scale(0.95 1)">14</text>
<text x="515.80" y="534.50" font-size="8.5" text-anchor="middle" fill="#111" class="t">Days</text>
<text x="0" y="0" font-size="11.1" text-anchor="middle" fill="#111" class="t" transform="translate(414.80 455.00) rotate(-90)">Body weight (g)</text>
<polyline points="458.90,430.90 496.70,428.78 534.50,425.95 572.30,417.81" fill="none" stroke="#0000f0" stroke-width="1.3" stroke-linejoin="round"/>
<line x1="458.90" y1="429.49" x2="458.90" y2="432.32" stroke="#0000f0" stroke-width="1.3" />
<line x1="456.70" y1="429.49" x2="461.10" y2="429.49" stroke="#0000f0" stroke-width="1.3" />
<line x1="456.70" y1="432.32" x2="461.10" y2="432.32" stroke="#0000f0" stroke-width="1.3" />
<circle cx="458.90" cy="430.90" r="2.5" fill="#0000f0"/>
<line x1="496.70" y1="427.36" x2="496.70" y2="430.19" stroke="#0000f0" stroke-width="1.3" />
<line x1="494.50" y1="427.36" x2="498.90" y2="427.36" stroke="#0000f0" stroke-width="1.3" />
<line x1="494.50" y1="430.19" x2="498.90" y2="430.19" stroke="#0000f0" stroke-width="1.3" />
<circle cx="496.70" cy="428.78" r="2.5" fill="#0000f0"/>
<line x1="534.50" y1="424.18" x2="534.50" y2="427.72" stroke="#0000f0" stroke-width="1.3" />
<line x1="532.30" y1="424.18" x2="536.70" y2="424.18" stroke="#0000f0" stroke-width="1.3" />
<line x1="532.30" y1="427.72" x2="536.70" y2="427.72" stroke="#0000f0" stroke-width="1.3" />
<circle cx="534.50" cy="425.95" r="2.5" fill="#0000f0"/>
<line x1="572.30" y1="415.69" x2="572.30" y2="419.94" stroke="#0000f0" stroke-width="1.3" />
<line x1="570.10" y1="415.69" x2="574.50" y2="415.69" stroke="#0000f0" stroke-width="1.3" />
<line x1="570.10" y1="419.94" x2="574.50" y2="419.94" stroke="#0000f0" stroke-width="1.3" />
<circle cx="572.30" cy="417.81" r="2.5" fill="#0000f0"/>
<polyline points="458.90,431.25 496.70,429.84 534.50,430.19 572.30,425.24" fill="none" stroke="#00bb00" stroke-width="1.3" stroke-linejoin="round"/>
<line x1="458.90" y1="429.84" x2="458.90" y2="432.67" stroke="#00bb00" stroke-width="1.3" />
<line x1="456.70" y1="429.84" x2="461.10" y2="429.84" stroke="#00bb00" stroke-width="1.3" />
<line x1="456.70" y1="432.67" x2="461.10" y2="432.67" stroke="#00bb00" stroke-width="1.3" />
<polygon points="458.90,428.38 461.65,433.55 456.15,433.55" fill="#00bb00"/>
<line x1="496.70" y1="428.42" x2="496.70" y2="431.25" stroke="#00bb00" stroke-width="1.3" />
<line x1="494.50" y1="428.42" x2="498.90" y2="428.42" stroke="#00bb00" stroke-width="1.3" />
<line x1="494.50" y1="431.25" x2="498.90" y2="431.25" stroke="#00bb00" stroke-width="1.3" />
<polygon points="496.70,426.96 499.45,432.14 493.95,432.14" fill="#00bb00"/>
<line x1="534.50" y1="428.42" x2="534.50" y2="431.96" stroke="#00bb00" stroke-width="1.3" />
<line x1="532.30" y1="428.42" x2="536.70" y2="428.42" stroke="#00bb00" stroke-width="1.3" />
<line x1="532.30" y1="431.96" x2="536.70" y2="431.96" stroke="#00bb00" stroke-width="1.3" />
<polygon points="534.50,427.32 537.25,432.49 531.75,432.49" fill="#00bb00"/>
<line x1="572.30" y1="423.47" x2="572.30" y2="427.01" stroke="#00bb00" stroke-width="1.3" />
<line x1="570.10" y1="423.47" x2="574.50" y2="423.47" stroke="#00bb00" stroke-width="1.3" />
<line x1="570.10" y1="427.01" x2="574.50" y2="427.01" stroke="#00bb00" stroke-width="1.3" />
<polygon points="572.30,422.37 575.05,427.54 569.55,427.54" fill="#00bb00"/>
<polyline points="458.90,431.96 496.70,437.27 534.50,446.46 572.30,437.97" fill="none" stroke="#ff0000" stroke-width="1.3" stroke-linejoin="round"/>
<line x1="458.90" y1="430.55" x2="458.90" y2="433.38" stroke="#ff0000" stroke-width="1.3" />
<line x1="456.70" y1="430.55" x2="461.10" y2="430.55" stroke="#ff0000" stroke-width="1.3" />
<line x1="456.70" y1="433.38" x2="461.10" y2="433.38" stroke="#ff0000" stroke-width="1.3" />
<rect x="456.40" y="429.46" width="5.00" height="5.00" fill="#ff0000"/>
<line x1="496.70" y1="435.85" x2="496.70" y2="438.68" stroke="#ff0000" stroke-width="1.3" />
<line x1="494.50" y1="435.85" x2="498.90" y2="435.85" stroke="#ff0000" stroke-width="1.3" />
<line x1="494.50" y1="438.68" x2="498.90" y2="438.68" stroke="#ff0000" stroke-width="1.3" />
<rect x="494.20" y="434.77" width="5.00" height="5.00" fill="#ff0000"/>
<line x1="534.50" y1="444.69" x2="534.50" y2="448.23" stroke="#ff0000" stroke-width="1.3" />
<line x1="532.30" y1="444.69" x2="536.70" y2="444.69" stroke="#ff0000" stroke-width="1.3" />
<line x1="532.30" y1="448.23" x2="536.70" y2="448.23" stroke="#ff0000" stroke-width="1.3" />
<rect x="532.00" y="443.96" width="5.00" height="5.00" fill="#ff0000"/>
<line x1="572.30" y1="436.21" x2="572.30" y2="439.74" stroke="#ff0000" stroke-width="1.3" />
<line x1="570.10" y1="436.21" x2="574.50" y2="436.21" stroke="#ff0000" stroke-width="1.3" />
<line x1="570.10" y1="439.74" x2="574.50" y2="439.74" stroke="#ff0000" stroke-width="1.3" />
<rect x="569.80" y="435.47" width="5.00" height="5.00" fill="#ff0000"/>
<polyline points="458.90,426.66 496.70,429.49 534.50,435.85 572.30,434.44" fill="none" stroke="#a000e6" stroke-width="1.3" stroke-linejoin="round"/>
<line x1="458.90" y1="425.24" x2="458.90" y2="428.07" stroke="#a000e6" stroke-width="1.3" />
<line x1="456.70" y1="425.24" x2="461.10" y2="425.24" stroke="#a000e6" stroke-width="1.3" />
<line x1="456.70" y1="428.07" x2="461.10" y2="428.07" stroke="#a000e6" stroke-width="1.3" />
<polygon points="458.90,429.53 461.65,424.36 456.15,424.36" fill="#a000e6"/>
<line x1="496.70" y1="428.07" x2="496.70" y2="430.90" stroke="#a000e6" stroke-width="1.3" />
<line x1="494.50" y1="428.07" x2="498.90" y2="428.07" stroke="#a000e6" stroke-width="1.3" />
<line x1="494.50" y1="430.90" x2="498.90" y2="430.90" stroke="#a000e6" stroke-width="1.3" />
<polygon points="496.70,432.36 499.45,427.19 493.95,427.19" fill="#a000e6"/>
<line x1="534.50" y1="434.08" x2="534.50" y2="437.62" stroke="#a000e6" stroke-width="1.3" />
<line x1="532.30" y1="434.08" x2="536.70" y2="434.08" stroke="#a000e6" stroke-width="1.3" />
<line x1="532.30" y1="437.62" x2="536.70" y2="437.62" stroke="#a000e6" stroke-width="1.3" />
<polygon points="534.50,438.73 537.25,433.55 531.75,433.55" fill="#a000e6"/>
<line x1="572.30" y1="432.67" x2="572.30" y2="436.21" stroke="#a000e6" stroke-width="1.3" />
<line x1="570.10" y1="432.67" x2="574.50" y2="432.67" stroke="#a000e6" stroke-width="1.3" />
<line x1="570.10" y1="436.21" x2="574.50" y2="436.21" stroke="#a000e6" stroke-width="1.3" />
<polygon points="572.30,437.31 575.05,432.14 569.55,432.14" fill="#a000e6"/>
<line x1="445.30" y1="476.00" x2="456.30" y2="476.00" stroke="#0000f0" stroke-width="1.3" />
<circle cx="450.80" cy="476.00" r="2.3" fill="#0000f0"/>
<text x="467.20" y="479.06" font-size="8.5" text-anchor="start" fill="#111" class="t">Vehicle&#160;&#160;control</text>
<line x1="541.00" y1="476.00" x2="552.00" y2="476.00" stroke="#ff0000" stroke-width="1.3" />
<rect x="544.20" y="473.70" width="4.60" height="4.60" fill="#ff0000"/>
<text x="558.40" y="479.06" font-size="8.5" text-anchor="start" fill="#111" class="t">TMZ</text>
<line x1="445.30" y1="492.20" x2="456.30" y2="492.20" stroke="#00bb00" stroke-width="1.3" />
<polygon points="450.80,489.56 453.33,494.32 448.27,494.32" fill="#00bb00"/>
<text x="463.40" y="495.26" font-size="8.5" text-anchor="start" fill="#111" class="t">BAP2</text>
<line x1="511.10" y1="492.20" x2="522.10" y2="492.20" stroke="#a000e6" stroke-width="1.3" />
<polygon points="516.60,494.84 519.13,490.08 514.07,490.08" fill="#a000e6"/>
<text x="529.20" y="495.26" font-size="8.5" text-anchor="start" fill="#111" class="t">BAP2+TMZ</text>
</svg></div>
</body></html>
